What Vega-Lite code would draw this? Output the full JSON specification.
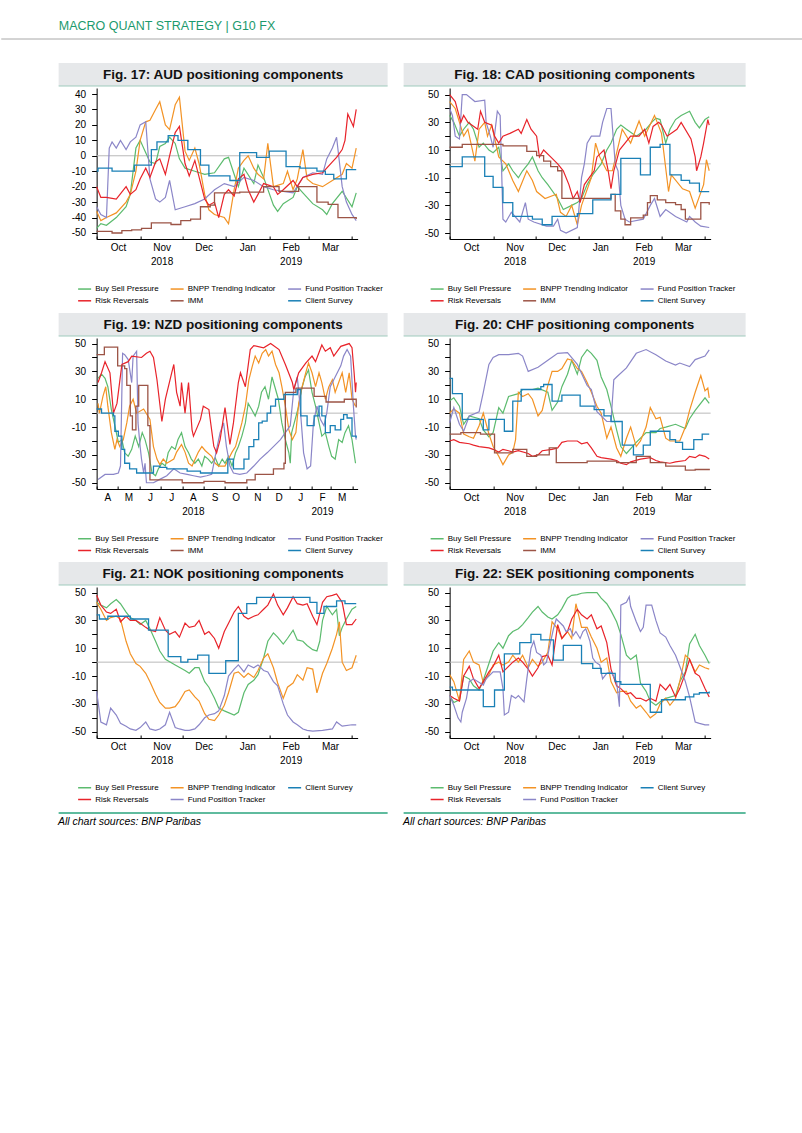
{
"$schema": "https://vega.github.io/schema/vega-lite/v6.json",
"background": "white",
"padding": {"left": 0, "top": 19, "right": 0, "bottom": 5},
"title": {"text": "MACRO QUANT STRATEGY | G10 FX", "anchor": "start", "frame": "bounds", "dx": 58, "font": "Liberation Sans Narrow, Liberation Sans", "fontSize": 12.5, "fontWeight": "normal", "color": "#1b9a6d", "offset": 6},
"config": {
  "font": "Liberation Sans",
  "view": {"stroke": null},
  "axis": {"grid": false, "domainColor": "#000000", "tickColor": "#000000", "labelColor": "#000000", "labelFontSize": 10, "labelFont": "Liberation Sans", "labelOverlap": false},
  "legend": {"labelFont": "Liberation Sans"}
},
"datasets": {
"aud": [
{"s":"Buy Sell Pressure","t":"2018-10-01","v":-47},{"s":"Buy Sell Pressure","t":"2018-10-04","v":-44},{"s":"Buy Sell Pressure","t":"2018-10-08","v":-45},{"s":"Buy Sell Pressure","t":"2018-10-15","v":-40},{"s":"Buy Sell Pressure","t":"2018-10-22","v":-33},{"s":"Buy Sell Pressure","t":"2018-10-25","v":-25},{"s":"Buy Sell Pressure","t":"2018-10-29","v":5},{"s":"Buy Sell Pressure","t":"2018-11-01","v":10},{"s":"Buy Sell Pressure","t":"2018-11-05","v":2},{"s":"Buy Sell Pressure","t":"2018-11-08","v":-4},{"s":"Buy Sell Pressure","t":"2018-11-12","v":-5},{"s":"Buy Sell Pressure","t":"2018-11-15","v":6},{"s":"Buy Sell Pressure","t":"2018-11-19","v":8},{"s":"Buy Sell Pressure","t":"2018-11-22","v":12},{"s":"Buy Sell Pressure","t":"2018-11-26","v":8},{"s":"Buy Sell Pressure","t":"2018-11-29","v":-2},{"s":"Buy Sell Pressure","t":"2018-12-03","v":-8},{"s":"Buy Sell Pressure","t":"2018-12-10","v":-10},{"s":"Buy Sell Pressure","t":"2018-12-17","v":-12},{"s":"Buy Sell Pressure","t":"2018-12-24","v":-11},{"s":"Buy Sell Pressure","t":"2018-12-31","v":-2},{"s":"Buy Sell Pressure","t":"2019-01-03","v":-1},{"s":"Buy Sell Pressure","t":"2019-01-07","v":-12},{"s":"Buy Sell Pressure","t":"2019-01-10","v":-20},{"s":"Buy Sell Pressure","t":"2019-01-14","v":-8},{"s":"Buy Sell Pressure","t":"2019-01-21","v":-18},{"s":"Buy Sell Pressure","t":"2019-01-24","v":-6},{"s":"Buy Sell Pressure","t":"2019-01-28","v":-14},{"s":"Buy Sell Pressure","t":"2019-02-04","v":-32},{"s":"Buy Sell Pressure","t":"2019-02-07","v":-36},{"s":"Buy Sell Pressure","t":"2019-02-11","v":-31},{"s":"Buy Sell Pressure","t":"2019-02-18","v":-27},{"s":"Buy Sell Pressure","t":"2019-02-21","v":-20},{"s":"Buy Sell Pressure","t":"2019-02-25","v":-24},{"s":"Buy Sell Pressure","t":"2019-03-04","v":-31},{"s":"Buy Sell Pressure","t":"2019-03-11","v":-35},{"s":"Buy Sell Pressure","t":"2019-03-14","v":-38},{"s":"Buy Sell Pressure","t":"2019-03-18","v":-31},{"s":"Buy Sell Pressure","t":"2019-03-25","v":-23},{"s":"Buy Sell Pressure","t":"2019-04-01","v":-33},{"s":"Buy Sell Pressure","t":"2019-04-04","v":-24},
{"s":"BNPP Trending Indicator","t":"2018-10-01","v":-36},{"s":"BNPP Trending Indicator","t":"2018-10-04","v":-42},{"s":"BNPP Trending Indicator","t":"2018-10-08","v":-40},{"s":"BNPP Trending Indicator","t":"2018-10-15","v":-37},{"s":"BNPP Trending Indicator","t":"2018-10-22","v":-30},{"s":"BNPP Trending Indicator","t":"2018-10-25","v":-25},{"s":"BNPP Trending Indicator","t":"2018-10-29","v":-10},{"s":"BNPP Trending Indicator","t":"2018-11-01","v":10},{"s":"BNPP Trending Indicator","t":"2018-11-05","v":22},{"s":"BNPP Trending Indicator","t":"2018-11-08","v":23},{"s":"BNPP Trending Indicator","t":"2018-11-12","v":30},{"s":"BNPP Trending Indicator","t":"2018-11-15","v":35},{"s":"BNPP Trending Indicator","t":"2018-11-19","v":20},{"s":"BNPP Trending Indicator","t":"2018-11-22","v":17},{"s":"BNPP Trending Indicator","t":"2018-11-26","v":33},{"s":"BNPP Trending Indicator","t":"2018-11-29","v":38},{"s":"BNPP Trending Indicator","t":"2018-12-03","v":3},{"s":"BNPP Trending Indicator","t":"2018-12-06","v":-3},{"s":"BNPP Trending Indicator","t":"2018-12-10","v":5},{"s":"BNPP Trending Indicator","t":"2018-12-13","v":-5},{"s":"BNPP Trending Indicator","t":"2018-12-17","v":-25},{"s":"BNPP Trending Indicator","t":"2018-12-20","v":-35},{"s":"BNPP Trending Indicator","t":"2018-12-24","v":-38},{"s":"BNPP Trending Indicator","t":"2018-12-31","v":-40},{"s":"BNPP Trending Indicator","t":"2019-01-03","v":-44},{"s":"BNPP Trending Indicator","t":"2019-01-07","v":-22},{"s":"BNPP Trending Indicator","t":"2019-01-10","v":-8},{"s":"BNPP Trending Indicator","t":"2019-01-14","v":-3},{"s":"BNPP Trending Indicator","t":"2019-01-17","v":0},{"s":"BNPP Trending Indicator","t":"2019-01-21","v":-8},{"s":"BNPP Trending Indicator","t":"2019-01-24","v":-12},{"s":"BNPP Trending Indicator","t":"2019-01-28","v":-15},{"s":"BNPP Trending Indicator","t":"2019-01-31","v":8},{"s":"BNPP Trending Indicator","t":"2019-02-04","v":-20},{"s":"BNPP Trending Indicator","t":"2019-02-11","v":-18},{"s":"BNPP Trending Indicator","t":"2019-02-14","v":-10},{"s":"BNPP Trending Indicator","t":"2019-02-18","v":-22},{"s":"BNPP Trending Indicator","t":"2019-02-21","v":-15},{"s":"BNPP Trending Indicator","t":"2019-02-25","v":4},{"s":"BNPP Trending Indicator","t":"2019-02-28","v":-15},{"s":"BNPP Trending Indicator","t":"2019-03-04","v":-18},{"s":"BNPP Trending Indicator","t":"2019-03-11","v":-20},{"s":"BNPP Trending Indicator","t":"2019-03-18","v":-16},{"s":"BNPP Trending Indicator","t":"2019-03-25","v":-12},{"s":"BNPP Trending Indicator","t":"2019-03-28","v":-5},{"s":"BNPP Trending Indicator","t":"2019-04-01","v":-8},{"s":"BNPP Trending Indicator","t":"2019-04-04","v":5},
{"s":"Fund Position Tracker","t":"2018-10-01","v":-33},{"s":"Fund Position Tracker","t":"2018-10-04","v":-38},{"s":"Fund Position Tracker","t":"2018-10-08","v":-40},{"s":"Fund Position Tracker","t":"2018-10-10","v":5},{"s":"Fund Position Tracker","t":"2018-10-12","v":9},{"s":"Fund Position Tracker","t":"2018-10-15","v":5},{"s":"Fund Position Tracker","t":"2018-10-18","v":10},{"s":"Fund Position Tracker","t":"2018-10-22","v":4},{"s":"Fund Position Tracker","t":"2018-10-25","v":9},{"s":"Fund Position Tracker","t":"2018-10-29","v":12},{"s":"Fund Position Tracker","t":"2018-11-01","v":20},{"s":"Fund Position Tracker","t":"2018-11-05","v":22},{"s":"Fund Position Tracker","t":"2018-11-08","v":-15},{"s":"Fund Position Tracker","t":"2018-11-12","v":-28},{"s":"Fund Position Tracker","t":"2018-11-15","v":-30},{"s":"Fund Position Tracker","t":"2018-11-19","v":-27},{"s":"Fund Position Tracker","t":"2018-11-22","v":-16},{"s":"Fund Position Tracker","t":"2018-11-26","v":-35},{"s":"Fund Position Tracker","t":"2018-12-03","v":-33},{"s":"Fund Position Tracker","t":"2018-12-10","v":-31},{"s":"Fund Position Tracker","t":"2018-12-17","v":-28},{"s":"Fund Position Tracker","t":"2018-12-24","v":-22},{"s":"Fund Position Tracker","t":"2018-12-31","v":-18},{"s":"Fund Position Tracker","t":"2019-01-07","v":-20},{"s":"Fund Position Tracker","t":"2019-01-14","v":-14},{"s":"Fund Position Tracker","t":"2019-01-21","v":-16},{"s":"Fund Position Tracker","t":"2019-01-28","v":-20},{"s":"Fund Position Tracker","t":"2019-02-04","v":-22},{"s":"Fund Position Tracker","t":"2019-02-11","v":-23},{"s":"Fund Position Tracker","t":"2019-02-18","v":-24},{"s":"Fund Position Tracker","t":"2019-02-25","v":-14},{"s":"Fund Position Tracker","t":"2019-03-04","v":-11},{"s":"Fund Position Tracker","t":"2019-03-11","v":-12},{"s":"Fund Position Tracker","t":"2019-03-14","v":-2},{"s":"Fund Position Tracker","t":"2019-03-18","v":5},{"s":"Fund Position Tracker","t":"2019-03-21","v":12},{"s":"Fund Position Tracker","t":"2019-03-25","v":-20},{"s":"Fund Position Tracker","t":"2019-03-28","v":-30},{"s":"Fund Position Tracker","t":"2019-04-01","v":-38},{"s":"Fund Position Tracker","t":"2019-04-04","v":-42},
{"s":"Risk Reversals","t":"2018-10-01","v":-20},{"s":"Risk Reversals","t":"2018-10-04","v":-27},{"s":"Risk Reversals","t":"2018-10-08","v":-27},{"s":"Risk Reversals","t":"2018-10-15","v":-28},{"s":"Risk Reversals","t":"2018-10-22","v":-20},{"s":"Risk Reversals","t":"2018-10-25","v":-25},{"s":"Risk Reversals","t":"2018-10-29","v":-22},{"s":"Risk Reversals","t":"2018-11-01","v":-15},{"s":"Risk Reversals","t":"2018-11-05","v":-8},{"s":"Risk Reversals","t":"2018-11-08","v":-14},{"s":"Risk Reversals","t":"2018-11-12","v":-4},{"s":"Risk Reversals","t":"2018-11-15","v":-2},{"s":"Risk Reversals","t":"2018-11-19","v":-12},{"s":"Risk Reversals","t":"2018-11-22","v":0},{"s":"Risk Reversals","t":"2018-11-26","v":15},{"s":"Risk Reversals","t":"2018-11-29","v":19},{"s":"Risk Reversals","t":"2018-12-03","v":-5},{"s":"Risk Reversals","t":"2018-12-06","v":-13},{"s":"Risk Reversals","t":"2018-12-10","v":-3},{"s":"Risk Reversals","t":"2018-12-17","v":-28},{"s":"Risk Reversals","t":"2018-12-20","v":-32},{"s":"Risk Reversals","t":"2018-12-24","v":-30},{"s":"Risk Reversals","t":"2018-12-27","v":-40},{"s":"Risk Reversals","t":"2018-12-31","v":-25},{"s":"Risk Reversals","t":"2019-01-03","v":-22},{"s":"Risk Reversals","t":"2019-01-07","v":-26},{"s":"Risk Reversals","t":"2019-01-10","v":-15},{"s":"Risk Reversals","t":"2019-01-14","v":-12},{"s":"Risk Reversals","t":"2019-01-17","v":-22},{"s":"Risk Reversals","t":"2019-01-21","v":-30},{"s":"Risk Reversals","t":"2019-01-24","v":-25},{"s":"Risk Reversals","t":"2019-01-28","v":-18},{"s":"Risk Reversals","t":"2019-02-04","v":-20},{"s":"Risk Reversals","t":"2019-02-07","v":-25},{"s":"Risk Reversals","t":"2019-02-11","v":-22},{"s":"Risk Reversals","t":"2019-02-18","v":-16},{"s":"Risk Reversals","t":"2019-02-21","v":-20},{"s":"Risk Reversals","t":"2019-02-25","v":-14},{"s":"Risk Reversals","t":"2019-03-04","v":-12},{"s":"Risk Reversals","t":"2019-03-11","v":-11},{"s":"Risk Reversals","t":"2019-03-18","v":-4},{"s":"Risk Reversals","t":"2019-03-21","v":-1},{"s":"Risk Reversals","t":"2019-03-25","v":4},{"s":"Risk Reversals","t":"2019-03-27","v":10},{"s":"Risk Reversals","t":"2019-03-29","v":27},{"s":"Risk Reversals","t":"2019-04-02","v":19},{"s":"Risk Reversals","t":"2019-04-04","v":30},
{"s":"IMM","t":"2018-10-01","v":-49},{"s":"IMM","t":"2018-10-12","v":-50},{"s":"IMM","t":"2018-10-19","v":-48.5},{"s":"IMM","t":"2018-10-26","v":-48},{"s":"IMM","t":"2018-11-02","v":-47},{"s":"IMM","t":"2018-11-09","v":-43.5},{"s":"IMM","t":"2018-11-23","v":-44.5},{"s":"IMM","t":"2018-11-30","v":-42},{"s":"IMM","t":"2018-12-07","v":-41},{"s":"IMM","t":"2018-12-14","v":-33},{"s":"IMM","t":"2018-12-21","v":-32},{"s":"IMM","t":"2018-12-24","v":-24},{"s":"IMM","t":"2019-01-11","v":-23.5},{"s":"IMM","t":"2019-01-28","v":-20},{"s":"IMM","t":"2019-02-08","v":-23},{"s":"IMM","t":"2019-02-22","v":-20},{"s":"IMM","t":"2019-03-07","v":-30},{"s":"IMM","t":"2019-03-15","v":-31.5},{"s":"IMM","t":"2019-03-22","v":-40},{"s":"IMM","t":"2019-04-04","v":-41},
{"s":"Client Survey","t":"2018-10-01","v":-10},{"s":"Client Survey","t":"2018-10-02","v":-8},{"s":"Client Survey","t":"2018-10-12","v":-10},{"s":"Client Survey","t":"2018-10-28","v":-6},{"s":"Client Survey","t":"2018-11-09","v":4},{"s":"Client Survey","t":"2018-11-13","v":9},{"s":"Client Survey","t":"2018-11-21","v":13},{"s":"Client Survey","t":"2018-11-28","v":10},{"s":"Client Survey","t":"2018-12-05","v":4},{"s":"Client Survey","t":"2018-12-14","v":-6},{"s":"Client Survey","t":"2018-12-20","v":-13},{"s":"Client Survey","t":"2019-01-04","v":-16},{"s":"Client Survey","t":"2019-01-11","v":2},{"s":"Client Survey","t":"2019-01-23","v":-1},{"s":"Client Survey","t":"2019-02-01","v":3},{"s":"Client Survey","t":"2019-02-13","v":-7},{"s":"Client Survey","t":"2019-02-23","v":-8},{"s":"Client Survey","t":"2019-03-07","v":-10},{"s":"Client Survey","t":"2019-03-13","v":-12},{"s":"Client Survey","t":"2019-03-19","v":-15},{"s":"Client Survey","t":"2019-03-28","v":-9},{"s":"Client Survey","t":"2019-04-04","v":-9}
],
"cad": [
{"s":"Buy Sell Pressure","t":"2018-10-01","v":35},{"s":"Buy Sell Pressure","t":"2018-10-04","v":30},{"s":"Buy Sell Pressure","t":"2018-10-08","v":20},{"s":"Buy Sell Pressure","t":"2018-10-11","v":25},{"s":"Buy Sell Pressure","t":"2018-10-15","v":30},{"s":"Buy Sell Pressure","t":"2018-10-18","v":25},{"s":"Buy Sell Pressure","t":"2018-10-22","v":12},{"s":"Buy Sell Pressure","t":"2018-10-25","v":15},{"s":"Buy Sell Pressure","t":"2018-10-29","v":10},{"s":"Buy Sell Pressure","t":"2018-11-01","v":8},{"s":"Buy Sell Pressure","t":"2018-11-05","v":12},{"s":"Buy Sell Pressure","t":"2018-11-08","v":-5},{"s":"Buy Sell Pressure","t":"2018-11-12","v":0},{"s":"Buy Sell Pressure","t":"2018-11-15","v":-5},{"s":"Buy Sell Pressure","t":"2018-11-19","v":-10},{"s":"Buy Sell Pressure","t":"2018-11-22","v":-5},{"s":"Buy Sell Pressure","t":"2018-11-26","v":0},{"s":"Buy Sell Pressure","t":"2018-11-29","v":5},{"s":"Buy Sell Pressure","t":"2018-12-03","v":-5},{"s":"Buy Sell Pressure","t":"2018-12-06","v":-10},{"s":"Buy Sell Pressure","t":"2018-12-10","v":-15},{"s":"Buy Sell Pressure","t":"2018-12-17","v":-25},{"s":"Buy Sell Pressure","t":"2018-12-21","v":-33},{"s":"Buy Sell Pressure","t":"2018-12-27","v":-30},{"s":"Buy Sell Pressure","t":"2018-12-31","v":-28},{"s":"Buy Sell Pressure","t":"2019-01-03","v":-25},{"s":"Buy Sell Pressure","t":"2019-01-07","v":-15},{"s":"Buy Sell Pressure","t":"2019-01-11","v":-8},{"s":"Buy Sell Pressure","t":"2019-01-17","v":0},{"s":"Buy Sell Pressure","t":"2019-01-21","v":10},{"s":"Buy Sell Pressure","t":"2019-01-24","v":15},{"s":"Buy Sell Pressure","t":"2019-01-28","v":25},{"s":"Buy Sell Pressure","t":"2019-01-31","v":28},{"s":"Buy Sell Pressure","t":"2019-02-04","v":25},{"s":"Buy Sell Pressure","t":"2019-02-11","v":20},{"s":"Buy Sell Pressure","t":"2019-02-18","v":25},{"s":"Buy Sell Pressure","t":"2019-02-22","v":30},{"s":"Buy Sell Pressure","t":"2019-02-25","v":33},{"s":"Buy Sell Pressure","t":"2019-02-28","v":32},{"s":"Buy Sell Pressure","t":"2019-03-04","v":15},{"s":"Buy Sell Pressure","t":"2019-03-07","v":25},{"s":"Buy Sell Pressure","t":"2019-03-11","v":32},{"s":"Buy Sell Pressure","t":"2019-03-15","v":35},{"s":"Buy Sell Pressure","t":"2019-03-21","v":38},{"s":"Buy Sell Pressure","t":"2019-03-25","v":30},{"s":"Buy Sell Pressure","t":"2019-03-28","v":26},{"s":"Buy Sell Pressure","t":"2019-04-01","v":32},{"s":"Buy Sell Pressure","t":"2019-04-04","v":34},
{"s":"BNPP Trending Indicator","t":"2018-10-01","v":45},{"s":"BNPP Trending Indicator","t":"2018-10-05","v":40},{"s":"BNPP Trending Indicator","t":"2018-10-11","v":20},{"s":"BNPP Trending Indicator","t":"2018-10-14","v":25},{"s":"BNPP Trending Indicator","t":"2018-10-19","v":2},{"s":"BNPP Trending Indicator","t":"2018-10-22","v":25},{"s":"BNPP Trending Indicator","t":"2018-10-26","v":30},{"s":"BNPP Trending Indicator","t":"2018-10-28","v":20},{"s":"BNPP Trending Indicator","t":"2018-10-31","v":28},{"s":"BNPP Trending Indicator","t":"2018-11-05","v":5},{"s":"BNPP Trending Indicator","t":"2018-11-10","v":0},{"s":"BNPP Trending Indicator","t":"2018-11-15","v":-12},{"s":"BNPP Trending Indicator","t":"2018-11-19","v":-20},{"s":"BNPP Trending Indicator","t":"2018-11-25","v":-5},{"s":"BNPP Trending Indicator","t":"2018-11-29","v":-12},{"s":"BNPP Trending Indicator","t":"2018-12-02","v":-20},{"s":"BNPP Trending Indicator","t":"2018-12-08","v":-25},{"s":"BNPP Trending Indicator","t":"2018-12-16","v":-22},{"s":"BNPP Trending Indicator","t":"2018-12-19","v":-35},{"s":"BNPP Trending Indicator","t":"2018-12-23","v":-38},{"s":"BNPP Trending Indicator","t":"2018-12-27","v":-30},{"s":"BNPP Trending Indicator","t":"2018-12-31","v":-44},{"s":"BNPP Trending Indicator","t":"2019-01-03","v":-30},{"s":"BNPP Trending Indicator","t":"2019-01-10","v":-10},{"s":"BNPP Trending Indicator","t":"2019-01-13","v":15},{"s":"BNPP Trending Indicator","t":"2019-01-16","v":5},{"s":"BNPP Trending Indicator","t":"2019-01-21","v":-5},{"s":"BNPP Trending Indicator","t":"2019-01-25","v":-5},{"s":"BNPP Trending Indicator","t":"2019-02-01","v":25},{"s":"BNPP Trending Indicator","t":"2019-02-07","v":15},{"s":"BNPP Trending Indicator","t":"2019-02-13","v":31},{"s":"BNPP Trending Indicator","t":"2019-02-17","v":20},{"s":"BNPP Trending Indicator","t":"2019-02-24","v":35},{"s":"BNPP Trending Indicator","t":"2019-03-01","v":22},{"s":"BNPP Trending Indicator","t":"2019-03-06","v":-20},{"s":"BNPP Trending Indicator","t":"2019-03-08","v":-8},{"s":"BNPP Trending Indicator","t":"2019-03-16","v":-18},{"s":"BNPP Trending Indicator","t":"2019-03-21","v":-20},{"s":"BNPP Trending Indicator","t":"2019-03-25","v":-32},{"s":"BNPP Trending Indicator","t":"2019-03-31","v":-15},{"s":"BNPP Trending Indicator","t":"2019-04-02","v":3},{"s":"BNPP Trending Indicator","t":"2019-04-04","v":-5},
{"s":"Fund Position Tracker","t":"2018-10-01","v":40},{"s":"Fund Position Tracker","t":"2018-10-03","v":35},{"s":"Fund Position Tracker","t":"2018-10-05","v":20},{"s":"Fund Position Tracker","t":"2018-10-08","v":18},{"s":"Fund Position Tracker","t":"2018-10-10","v":50},{"s":"Fund Position Tracker","t":"2018-10-13","v":50},{"s":"Fund Position Tracker","t":"2018-10-19","v":45},{"s":"Fund Position Tracker","t":"2018-10-26","v":46},{"s":"Fund Position Tracker","t":"2018-10-27","v":30},{"s":"Fund Position Tracker","t":"2018-10-30","v":20},{"s":"Fund Position Tracker","t":"2018-11-01","v":12},{"s":"Fund Position Tracker","t":"2018-11-04","v":38},{"s":"Fund Position Tracker","t":"2018-11-06","v":35},{"s":"Fund Position Tracker","t":"2018-11-08","v":-40},{"s":"Fund Position Tracker","t":"2018-11-10","v":-42},{"s":"Fund Position Tracker","t":"2018-11-14","v":-35},{"s":"Fund Position Tracker","t":"2018-11-20","v":-42},{"s":"Fund Position Tracker","t":"2018-11-24","v":-28},{"s":"Fund Position Tracker","t":"2018-11-26","v":-40},{"s":"Fund Position Tracker","t":"2018-11-30","v":-42},{"s":"Fund Position Tracker","t":"2018-12-09","v":-45},{"s":"Fund Position Tracker","t":"2018-12-14","v":-45},{"s":"Fund Position Tracker","t":"2018-12-17","v":-40},{"s":"Fund Position Tracker","t":"2018-12-19","v":-48},{"s":"Fund Position Tracker","t":"2018-12-23","v":-50},{"s":"Fund Position Tracker","t":"2018-12-31","v":-46},{"s":"Fund Position Tracker","t":"2019-01-03","v":-10},{"s":"Fund Position Tracker","t":"2019-01-05","v":0},{"s":"Fund Position Tracker","t":"2019-01-07","v":15},{"s":"Fund Position Tracker","t":"2019-01-10","v":20},{"s":"Fund Position Tracker","t":"2019-01-16","v":20},{"s":"Fund Position Tracker","t":"2019-01-18","v":30},{"s":"Fund Position Tracker","t":"2019-01-21","v":40},{"s":"Fund Position Tracker","t":"2019-01-24","v":40},{"s":"Fund Position Tracker","t":"2019-01-27","v":0},{"s":"Fund Position Tracker","t":"2019-01-29","v":-5},{"s":"Fund Position Tracker","t":"2019-01-31","v":-30},{"s":"Fund Position Tracker","t":"2019-02-03","v":-40},{"s":"Fund Position Tracker","t":"2019-02-06","v":-42},{"s":"Fund Position Tracker","t":"2019-02-16","v":-40},{"s":"Fund Position Tracker","t":"2019-02-21","v":-30},{"s":"Fund Position Tracker","t":"2019-02-24","v":-25},{"s":"Fund Position Tracker","t":"2019-02-28","v":-38},{"s":"Fund Position Tracker","t":"2019-03-04","v":-33},{"s":"Fund Position Tracker","t":"2019-03-11","v":-38},{"s":"Fund Position Tracker","t":"2019-03-19","v":-42},{"s":"Fund Position Tracker","t":"2019-03-21","v":-38},{"s":"Fund Position Tracker","t":"2019-03-25","v":-42},{"s":"Fund Position Tracker","t":"2019-03-29","v":-45},{"s":"Fund Position Tracker","t":"2019-04-04","v":-46},
{"s":"Risk Reversals","t":"2018-10-01","v":50},{"s":"Risk Reversals","t":"2018-10-05","v":45},{"s":"Risk Reversals","t":"2018-10-09","v":30},{"s":"Risk Reversals","t":"2018-10-11","v":35},{"s":"Risk Reversals","t":"2018-10-14","v":30},{"s":"Risk Reversals","t":"2018-10-21","v":25},{"s":"Risk Reversals","t":"2018-10-23","v":38},{"s":"Risk Reversals","t":"2018-10-26","v":30},{"s":"Risk Reversals","t":"2018-10-31","v":28},{"s":"Risk Reversals","t":"2018-11-02","v":20},{"s":"Risk Reversals","t":"2018-11-05","v":15},{"s":"Risk Reversals","t":"2018-11-08","v":20},{"s":"Risk Reversals","t":"2018-11-13","v":22},{"s":"Risk Reversals","t":"2018-11-19","v":25},{"s":"Risk Reversals","t":"2018-11-21","v":22},{"s":"Risk Reversals","t":"2018-11-25","v":32},{"s":"Risk Reversals","t":"2018-11-28","v":25},{"s":"Risk Reversals","t":"2018-12-02","v":20},{"s":"Risk Reversals","t":"2018-12-04","v":5},{"s":"Risk Reversals","t":"2018-12-07","v":10},{"s":"Risk Reversals","t":"2018-12-12","v":5},{"s":"Risk Reversals","t":"2018-12-17","v":0},{"s":"Risk Reversals","t":"2018-12-21","v":-5},{"s":"Risk Reversals","t":"2018-12-25","v":-15},{"s":"Risk Reversals","t":"2018-12-28","v":-25},{"s":"Risk Reversals","t":"2018-12-31","v":-20},{"s":"Risk Reversals","t":"2019-01-02","v":-28},{"s":"Risk Reversals","t":"2019-01-05","v":-15},{"s":"Risk Reversals","t":"2019-01-12","v":-5},{"s":"Risk Reversals","t":"2019-01-14","v":5},{"s":"Risk Reversals","t":"2019-01-19","v":10},{"s":"Risk Reversals","t":"2019-01-22","v":-5},{"s":"Risk Reversals","t":"2019-01-24","v":-18},{"s":"Risk Reversals","t":"2019-01-26","v":-5},{"s":"Risk Reversals","t":"2019-01-30","v":10},{"s":"Risk Reversals","t":"2019-02-03","v":15},{"s":"Risk Reversals","t":"2019-02-07","v":20},{"s":"Risk Reversals","t":"2019-02-13","v":20},{"s":"Risk Reversals","t":"2019-02-17","v":25},{"s":"Risk Reversals","t":"2019-02-20","v":15},{"s":"Risk Reversals","t":"2019-02-23","v":27},{"s":"Risk Reversals","t":"2019-02-27","v":30},{"s":"Risk Reversals","t":"2019-03-01","v":28},{"s":"Risk Reversals","t":"2019-03-05","v":20},{"s":"Risk Reversals","t":"2019-03-12","v":25},{"s":"Risk Reversals","t":"2019-03-15","v":30},{"s":"Risk Reversals","t":"2019-03-22","v":18},{"s":"Risk Reversals","t":"2019-03-25","v":5},{"s":"Risk Reversals","t":"2019-03-26","v":-5},{"s":"Risk Reversals","t":"2019-03-29","v":5},{"s":"Risk Reversals","t":"2019-03-31","v":15},{"s":"Risk Reversals","t":"2019-04-03","v":32},{"s":"Risk Reversals","t":"2019-04-04","v":28},
{"s":"IMM","t":"2018-10-01","v":12},{"s":"IMM","t":"2018-10-10","v":14},{"s":"IMM","t":"2018-11-08","v":13},{"s":"IMM","t":"2018-11-25","v":9},{"s":"IMM","t":"2018-12-02","v":6},{"s":"IMM","t":"2018-12-07","v":2},{"s":"IMM","t":"2018-12-12","v":-2},{"s":"IMM","t":"2018-12-17","v":-5},{"s":"IMM","t":"2018-12-20","v":-25},{"s":"IMM","t":"2019-01-24","v":-22},{"s":"IMM","t":"2019-01-27","v":-34},{"s":"IMM","t":"2019-01-31","v":-40},{"s":"IMM","t":"2019-02-03","v":-44},{"s":"IMM","t":"2019-02-07","v":-39},{"s":"IMM","t":"2019-02-16","v":-37},{"s":"IMM","t":"2019-02-19","v":-28},{"s":"IMM","t":"2019-02-21","v":-23},{"s":"IMM","t":"2019-02-26","v":-26},{"s":"IMM","t":"2019-03-04","v":-28},{"s":"IMM","t":"2019-03-11","v":-29.5},{"s":"IMM","t":"2019-03-15","v":-33},{"s":"IMM","t":"2019-03-18","v":-40},{"s":"IMM","t":"2019-03-29","v":-28},{"s":"IMM","t":"2019-04-04","v":-29.5},
{"s":"Client Survey","t":"2018-10-01","v":-2},{"s":"Client Survey","t":"2018-10-10","v":5},{"s":"Client Survey","t":"2018-10-26","v":-9},{"s":"Client Survey","t":"2018-11-01","v":-17},{"s":"Client Survey","t":"2018-11-08","v":-28},{"s":"Client Survey","t":"2018-11-15","v":-38},{"s":"Client Survey","t":"2018-11-29","v":-40},{"s":"Client Survey","t":"2018-12-06","v":-44},{"s":"Client Survey","t":"2018-12-13","v":-38},{"s":"Client Survey","t":"2018-12-31","v":-36},{"s":"Client Survey","t":"2019-01-11","v":-26},{"s":"Client Survey","t":"2019-01-24","v":-22},{"s":"Client Survey","t":"2019-01-31","v":4},{"s":"Client Survey","t":"2019-02-14","v":-8},{"s":"Client Survey","t":"2019-02-21","v":12},{"s":"Client Survey","t":"2019-02-28","v":14},{"s":"Client Survey","t":"2019-03-07","v":-8},{"s":"Client Survey","t":"2019-03-15","v":-12},{"s":"Client Survey","t":"2019-03-21","v":-14},{"s":"Client Survey","t":"2019-03-28","v":-20},{"s":"Client Survey","t":"2019-04-04","v":-20}
],
"nzd": [
{"s":"Buy Sell Pressure","t":"2018-04-03","v":25},{"s":"Buy Sell Pressure","t":"2018-04-08","v":28},{"s":"Buy Sell Pressure","t":"2018-04-13","v":25},{"s":"Buy Sell Pressure","t":"2018-04-17","v":19},{"s":"Buy Sell Pressure","t":"2018-04-22","v":2.6},{"s":"Buy Sell Pressure","t":"2018-04-27","v":-9},{"s":"Buy Sell Pressure","t":"2018-05-02","v":-21},{"s":"Buy Sell Pressure","t":"2018-05-07","v":-19},{"s":"Buy Sell Pressure","t":"2018-05-11","v":-28.5},{"s":"Buy Sell Pressure","t":"2018-05-16","v":-31},{"s":"Buy Sell Pressure","t":"2018-05-21","v":-26},{"s":"Buy Sell Pressure","t":"2018-05-26","v":-16.5},{"s":"Buy Sell Pressure","t":"2018-05-31","v":-24},{"s":"Buy Sell Pressure","t":"2018-06-05","v":-14},{"s":"Buy Sell Pressure","t":"2018-06-09","v":-19},{"s":"Buy Sell Pressure","t":"2018-06-14","v":-28.5},{"s":"Buy Sell Pressure","t":"2018-06-19","v":-43},{"s":"Buy Sell Pressure","t":"2018-06-24","v":-45},{"s":"Buy Sell Pressure","t":"2018-06-28","v":-40},{"s":"Buy Sell Pressure","t":"2018-07-03","v":-36},{"s":"Buy Sell Pressure","t":"2018-07-08","v":-38},{"s":"Buy Sell Pressure","t":"2018-07-12","v":-28.5},{"s":"Buy Sell Pressure","t":"2018-07-17","v":-24},{"s":"Buy Sell Pressure","t":"2018-07-22","v":-26},{"s":"Buy Sell Pressure","t":"2018-07-26","v":-19},{"s":"Buy Sell Pressure","t":"2018-07-31","v":-14},{"s":"Buy Sell Pressure","t":"2018-08-05","v":-24},{"s":"Buy Sell Pressure","t":"2018-08-10","v":-28.5},{"s":"Buy Sell Pressure","t":"2018-08-14","v":-33},{"s":"Buy Sell Pressure","t":"2018-08-19","v":-36},{"s":"Buy Sell Pressure","t":"2018-08-24","v":-33},{"s":"Buy Sell Pressure","t":"2018-08-29","v":-38},{"s":"Buy Sell Pressure","t":"2018-09-02","v":-31},{"s":"Buy Sell Pressure","t":"2018-09-07","v":-33},{"s":"Buy Sell Pressure","t":"2018-09-12","v":-36},{"s":"Buy Sell Pressure","t":"2018-09-17","v":-32},{"s":"Buy Sell Pressure","t":"2018-09-22","v":-38},{"s":"Buy Sell Pressure","t":"2018-09-27","v":-33},{"s":"Buy Sell Pressure","t":"2018-10-01","v":-36},{"s":"Buy Sell Pressure","t":"2018-10-06","v":-31},{"s":"Buy Sell Pressure","t":"2018-10-11","v":-38},{"s":"Buy Sell Pressure","t":"2018-10-16","v":-28.5},{"s":"Buy Sell Pressure","t":"2018-10-20","v":-24},{"s":"Buy Sell Pressure","t":"2018-10-25","v":-16.5},{"s":"Buy Sell Pressure","t":"2018-10-30","v":-7},{"s":"Buy Sell Pressure","t":"2018-11-03","v":7},{"s":"Buy Sell Pressure","t":"2018-11-08","v":2.6},{"s":"Buy Sell Pressure","t":"2018-11-13","v":-2},{"s":"Buy Sell Pressure","t":"2018-11-18","v":5},{"s":"Buy Sell Pressure","t":"2018-11-22","v":15},{"s":"Buy Sell Pressure","t":"2018-11-27","v":19},{"s":"Buy Sell Pressure","t":"2018-12-02","v":10},{"s":"Buy Sell Pressure","t":"2018-12-07","v":26},{"s":"Buy Sell Pressure","t":"2018-12-11","v":19},{"s":"Buy Sell Pressure","t":"2018-12-16","v":10},{"s":"Buy Sell Pressure","t":"2018-12-21","v":-7},{"s":"Buy Sell Pressure","t":"2018-12-26","v":-19},{"s":"Buy Sell Pressure","t":"2018-12-31","v":-28.5},{"s":"Buy Sell Pressure","t":"2019-01-02","v":-36},{"s":"Buy Sell Pressure","t":"2019-01-04","v":-14},{"s":"Buy Sell Pressure","t":"2019-01-09","v":-4.5},{"s":"Buy Sell Pressure","t":"2019-01-14","v":5},{"s":"Buy Sell Pressure","t":"2019-01-18","v":17},{"s":"Buy Sell Pressure","t":"2019-01-23","v":26},{"s":"Buy Sell Pressure","t":"2019-01-28","v":31},{"s":"Buy Sell Pressure","t":"2019-02-02","v":15},{"s":"Buy Sell Pressure","t":"2019-02-07","v":5},{"s":"Buy Sell Pressure","t":"2019-02-11","v":-4.5},{"s":"Buy Sell Pressure","t":"2019-02-16","v":-16.5},{"s":"Buy Sell Pressure","t":"2019-02-21","v":-14},{"s":"Buy Sell Pressure","t":"2019-02-26","v":-24},{"s":"Buy Sell Pressure","t":"2019-03-02","v":-31},{"s":"Buy Sell Pressure","t":"2019-03-07","v":-33},{"s":"Buy Sell Pressure","t":"2019-03-12","v":-19},{"s":"Buy Sell Pressure","t":"2019-03-17","v":-21},{"s":"Buy Sell Pressure","t":"2019-03-21","v":-14},{"s":"Buy Sell Pressure","t":"2019-03-26","v":-9},{"s":"Buy Sell Pressure","t":"2019-03-31","v":-19},{"s":"Buy Sell Pressure","t":"2019-04-05","v":-36},
{"s":"BNPP Trending Indicator","t":"2018-04-03","v":7},{"s":"BNPP Trending Indicator","t":"2018-04-05","v":0},{"s":"BNPP Trending Indicator","t":"2018-04-10","v":12},{"s":"BNPP Trending Indicator","t":"2018-04-14","v":19},{"s":"BNPP Trending Indicator","t":"2018-04-17","v":5},{"s":"BNPP Trending Indicator","t":"2018-04-22","v":-14},{"s":"BNPP Trending Indicator","t":"2018-04-27","v":-26},{"s":"BNPP Trending Indicator","t":"2018-04-30","v":-19},{"s":"BNPP Trending Indicator","t":"2018-05-04","v":-24},{"s":"BNPP Trending Indicator","t":"2018-05-09","v":-19},{"s":"BNPP Trending Indicator","t":"2018-05-14","v":-7},{"s":"BNPP Trending Indicator","t":"2018-05-18","v":5},{"s":"BNPP Trending Indicator","t":"2018-05-23","v":10},{"s":"BNPP Trending Indicator","t":"2018-05-28","v":0},{"s":"BNPP Trending Indicator","t":"2018-06-07","v":3},{"s":"BNPP Trending Indicator","t":"2018-06-16","v":-4.5},{"s":"BNPP Trending Indicator","t":"2018-06-21","v":-24},{"s":"BNPP Trending Indicator","t":"2018-06-26","v":-33},{"s":"BNPP Trending Indicator","t":"2018-06-30","v":-37},{"s":"BNPP Trending Indicator","t":"2018-07-05","v":-33},{"s":"BNPP Trending Indicator","t":"2018-07-10","v":-36},{"s":"BNPP Trending Indicator","t":"2018-07-20","v":-33},{"s":"BNPP Trending Indicator","t":"2018-07-24","v":-28},{"s":"BNPP Trending Indicator","t":"2018-07-31","v":-22.5},{"s":"BNPP Trending Indicator","t":"2018-08-05","v":-28},{"s":"BNPP Trending Indicator","t":"2018-08-10","v":-36},{"s":"BNPP Trending Indicator","t":"2018-08-15","v":-38},{"s":"BNPP Trending Indicator","t":"2018-08-24","v":-28},{"s":"BNPP Trending Indicator","t":"2018-08-29","v":-24},{"s":"BNPP Trending Indicator","t":"2018-09-03","v":-27},{"s":"BNPP Trending Indicator","t":"2018-09-12","v":-31},{"s":"BNPP Trending Indicator","t":"2018-09-17","v":-36},{"s":"BNPP Trending Indicator","t":"2018-09-22","v":-38},{"s":"BNPP Trending Indicator","t":"2018-10-01","v":-38},{"s":"BNPP Trending Indicator","t":"2018-10-06","v":-33},{"s":"BNPP Trending Indicator","t":"2018-10-11","v":-28},{"s":"BNPP Trending Indicator","t":"2018-10-16","v":-24},{"s":"BNPP Trending Indicator","t":"2018-10-20","v":-16.5},{"s":"BNPP Trending Indicator","t":"2018-10-25","v":-7},{"s":"BNPP Trending Indicator","t":"2018-10-30","v":5},{"s":"BNPP Trending Indicator","t":"2018-11-04","v":24},{"s":"BNPP Trending Indicator","t":"2018-11-09","v":34},{"s":"BNPP Trending Indicator","t":"2018-11-13","v":41},{"s":"BNPP Trending Indicator","t":"2018-11-18","v":36},{"s":"BNPP Trending Indicator","t":"2018-11-23","v":43},{"s":"BNPP Trending Indicator","t":"2018-11-28","v":45.7},{"s":"BNPP Trending Indicator","t":"2018-12-02","v":41},{"s":"BNPP Trending Indicator","t":"2018-12-07","v":44.5},{"s":"BNPP Trending Indicator","t":"2018-12-12","v":35},{"s":"BNPP Trending Indicator","t":"2018-12-17","v":29},{"s":"BNPP Trending Indicator","t":"2018-12-21","v":19},{"s":"BNPP Trending Indicator","t":"2018-12-26","v":5},{"s":"BNPP Trending Indicator","t":"2018-12-31","v":-12},{"s":"BNPP Trending Indicator","t":"2019-01-05","v":-19},{"s":"BNPP Trending Indicator","t":"2019-01-10","v":-14},{"s":"BNPP Trending Indicator","t":"2019-01-14","v":7},{"s":"BNPP Trending Indicator","t":"2019-01-19","v":19},{"s":"BNPP Trending Indicator","t":"2019-01-24","v":29},{"s":"BNPP Trending Indicator","t":"2019-01-28","v":36},{"s":"BNPP Trending Indicator","t":"2019-02-02","v":29},{"s":"BNPP Trending Indicator","t":"2019-02-07","v":19},{"s":"BNPP Trending Indicator","t":"2019-02-12","v":29},{"s":"BNPP Trending Indicator","t":"2019-02-16","v":22},{"s":"BNPP Trending Indicator","t":"2019-02-21","v":10},{"s":"BNPP Trending Indicator","t":"2019-02-26","v":19},{"s":"BNPP Trending Indicator","t":"2019-03-03","v":24},{"s":"BNPP Trending Indicator","t":"2019-03-07","v":15},{"s":"BNPP Trending Indicator","t":"2019-03-12","v":22},{"s":"BNPP Trending Indicator","t":"2019-03-17","v":29},{"s":"BNPP Trending Indicator","t":"2019-03-22","v":15},{"s":"BNPP Trending Indicator","t":"2019-03-27","v":29},{"s":"BNPP Trending Indicator","t":"2019-03-31","v":10},{"s":"BNPP Trending Indicator","t":"2019-04-05","v":5},
{"s":"Fund Position Tracker","t":"2018-04-03","v":-47.6},{"s":"Fund Position Tracker","t":"2018-04-13","v":-44},{"s":"Fund Position Tracker","t":"2018-04-25","v":-44},{"s":"Fund Position Tracker","t":"2018-05-02","v":-43},{"s":"Fund Position Tracker","t":"2018-05-05","v":-38},{"s":"Fund Position Tracker","t":"2018-05-08","v":43},{"s":"Fund Position Tracker","t":"2018-05-11","v":42},{"s":"Fund Position Tracker","t":"2018-05-16","v":38.5},{"s":"Fund Position Tracker","t":"2018-05-21","v":22},{"s":"Fund Position Tracker","t":"2018-05-23","v":41},{"s":"Fund Position Tracker","t":"2018-05-28","v":44.5},{"s":"Fund Position Tracker","t":"2018-05-30","v":-7},{"s":"Fund Position Tracker","t":"2018-06-02","v":-24},{"s":"Fund Position Tracker","t":"2018-06-04","v":-33},{"s":"Fund Position Tracker","t":"2018-06-07","v":-43},{"s":"Fund Position Tracker","t":"2018-06-09","v":-36},{"s":"Fund Position Tracker","t":"2018-06-11","v":-50},{"s":"Fund Position Tracker","t":"2018-06-21","v":-50},{"s":"Fund Position Tracker","t":"2018-06-30","v":-47.6},{"s":"Fund Position Tracker","t":"2018-07-10","v":-45},{"s":"Fund Position Tracker","t":"2018-07-20","v":-40},{"s":"Fund Position Tracker","t":"2018-07-29","v":-43},{"s":"Fund Position Tracker","t":"2018-08-08","v":-44},{"s":"Fund Position Tracker","t":"2018-08-17","v":-45},{"s":"Fund Position Tracker","t":"2018-08-27","v":-46},{"s":"Fund Position Tracker","t":"2018-09-05","v":-45},{"s":"Fund Position Tracker","t":"2018-09-12","v":-44},{"s":"Fund Position Tracker","t":"2018-09-19","v":-26},{"s":"Fund Position Tracker","t":"2018-09-24","v":-14},{"s":"Fund Position Tracker","t":"2018-09-29","v":-7},{"s":"Fund Position Tracker","t":"2018-10-03","v":-24},{"s":"Fund Position Tracker","t":"2018-10-08","v":-38},{"s":"Fund Position Tracker","t":"2018-10-13","v":-43},{"s":"Fund Position Tracker","t":"2018-10-22","v":-44},{"s":"Fund Position Tracker","t":"2018-11-01","v":-43},{"s":"Fund Position Tracker","t":"2018-11-11","v":-38},{"s":"Fund Position Tracker","t":"2018-11-20","v":-33},{"s":"Fund Position Tracker","t":"2018-11-30","v":-28.5},{"s":"Fund Position Tracker","t":"2018-12-09","v":-24},{"s":"Fund Position Tracker","t":"2018-12-19","v":-19},{"s":"Fund Position Tracker","t":"2018-12-26","v":-14},{"s":"Fund Position Tracker","t":"2019-01-02","v":-9},{"s":"Fund Position Tracker","t":"2019-01-07","v":17},{"s":"Fund Position Tracker","t":"2019-01-12","v":26},{"s":"Fund Position Tracker","t":"2019-01-16","v":5},{"s":"Fund Position Tracker","t":"2019-01-21","v":-28.5},{"s":"Fund Position Tracker","t":"2019-01-26","v":-40},{"s":"Fund Position Tracker","t":"2019-01-31","v":-38},{"s":"Fund Position Tracker","t":"2019-02-04","v":-7},{"s":"Fund Position Tracker","t":"2019-02-09","v":5},{"s":"Fund Position Tracker","t":"2019-02-14","v":-4.5},{"s":"Fund Position Tracker","t":"2019-02-19","v":-9},{"s":"Fund Position Tracker","t":"2019-02-23","v":0},{"s":"Fund Position Tracker","t":"2019-02-28","v":19},{"s":"Fund Position Tracker","t":"2019-03-05","v":24},{"s":"Fund Position Tracker","t":"2019-03-10","v":29},{"s":"Fund Position Tracker","t":"2019-03-15","v":34},{"s":"Fund Position Tracker","t":"2019-03-19","v":41},{"s":"Fund Position Tracker","t":"2019-03-24","v":45.7},{"s":"Fund Position Tracker","t":"2019-03-29","v":41},{"s":"Fund Position Tracker","t":"2019-04-02","v":5},{"s":"Fund Position Tracker","t":"2019-04-05","v":-16.5},{"s":"Fund Position Tracker","t":"2019-04-06","v":-19},
{"s":"Risk Reversals","t":"2018-04-03","v":22},{"s":"Risk Reversals","t":"2018-04-08","v":29},{"s":"Risk Reversals","t":"2018-04-13","v":37},{"s":"Risk Reversals","t":"2018-04-20","v":29},{"s":"Risk Reversals","t":"2018-04-25","v":0},{"s":"Risk Reversals","t":"2018-04-30","v":7},{"s":"Risk Reversals","t":"2018-05-07","v":35},{"s":"Risk Reversals","t":"2018-05-16","v":37},{"s":"Risk Reversals","t":"2018-05-21","v":41},{"s":"Risk Reversals","t":"2018-06-04","v":40},{"s":"Risk Reversals","t":"2018-06-11","v":43},{"s":"Risk Reversals","t":"2018-06-16","v":44.5},{"s":"Risk Reversals","t":"2018-06-21","v":40},{"s":"Risk Reversals","t":"2018-06-26","v":24},{"s":"Risk Reversals","t":"2018-07-03","v":-6},{"s":"Risk Reversals","t":"2018-07-08","v":10},{"s":"Risk Reversals","t":"2018-07-17","v":29},{"s":"Risk Reversals","t":"2018-07-20","v":35},{"s":"Risk Reversals","t":"2018-07-24","v":15},{"s":"Risk Reversals","t":"2018-07-29","v":5},{"s":"Risk Reversals","t":"2018-07-31","v":22},{"s":"Risk Reversals","t":"2018-08-05","v":0},{"s":"Risk Reversals","t":"2018-08-10","v":22},{"s":"Risk Reversals","t":"2018-08-15","v":-12},{"s":"Risk Reversals","t":"2018-08-17","v":-16.5},{"s":"Risk Reversals","t":"2018-08-27","v":-4.5},{"s":"Risk Reversals","t":"2018-08-31","v":5},{"s":"Risk Reversals","t":"2018-09-08","v":2.6},{"s":"Risk Reversals","t":"2018-09-15","v":-23.7},{"s":"Risk Reversals","t":"2018-09-19","v":-28.5},{"s":"Risk Reversals","t":"2018-09-24","v":-19},{"s":"Risk Reversals","t":"2018-10-01","v":4},{"s":"Risk Reversals","t":"2018-10-08","v":-22.5},{"s":"Risk Reversals","t":"2018-10-13","v":-7},{"s":"Risk Reversals","t":"2018-10-20","v":22},{"s":"Risk Reversals","t":"2018-10-23","v":29},{"s":"Risk Reversals","t":"2018-10-30","v":19},{"s":"Risk Reversals","t":"2018-11-06","v":45.7},{"s":"Risk Reversals","t":"2018-11-11","v":48.5},{"s":"Risk Reversals","t":"2018-11-25","v":47},{"s":"Risk Reversals","t":"2018-12-05","v":50},{"s":"Risk Reversals","t":"2018-12-17","v":45.7},{"s":"Risk Reversals","t":"2018-12-26","v":35},{"s":"Risk Reversals","t":"2019-01-05","v":22},{"s":"Risk Reversals","t":"2019-01-07","v":17},{"s":"Risk Reversals","t":"2019-01-14","v":29},{"s":"Risk Reversals","t":"2019-01-24","v":36},{"s":"Risk Reversals","t":"2019-02-02","v":41},{"s":"Risk Reversals","t":"2019-02-07","v":37},{"s":"Risk Reversals","t":"2019-02-16","v":49},{"s":"Risk Reversals","t":"2019-02-21","v":44.5},{"s":"Risk Reversals","t":"2019-02-28","v":47},{"s":"Risk Reversals","t":"2019-03-05","v":41},{"s":"Risk Reversals","t":"2019-03-15","v":48},{"s":"Risk Reversals","t":"2019-03-27","v":50},{"s":"Risk Reversals","t":"2019-03-31","v":47},{"s":"Risk Reversals","t":"2019-04-03","v":29},{"s":"Risk Reversals","t":"2019-04-05","v":15},{"s":"Risk Reversals","t":"2019-04-06","v":22},
{"s":"IMM","t":"2018-04-01","v":42},{"s":"IMM","t":"2018-04-12","v":47.5},{"s":"IMM","t":"2018-05-01","v":34},{"s":"IMM","t":"2018-05-11","v":32},{"s":"IMM","t":"2018-05-14","v":20},{"s":"IMM","t":"2018-05-19","v":-2},{"s":"IMM","t":"2018-05-22","v":-12},{"s":"IMM","t":"2018-05-27","v":5},{"s":"IMM","t":"2018-05-31","v":20},{"s":"IMM","t":"2018-06-13","v":-9},{"s":"IMM","t":"2018-06-16","v":-48},{"s":"IMM","t":"2018-08-01","v":-50},{"s":"IMM","t":"2018-09-01","v":-49},{"s":"IMM","t":"2018-10-01","v":-50},{"s":"IMM","t":"2018-11-01","v":-48},{"s":"IMM","t":"2018-11-13","v":-44},{"s":"IMM","t":"2018-12-09","v":-40},{"s":"IMM","t":"2018-12-24","v":-36},{"s":"IMM","t":"2018-12-26","v":15},{"s":"IMM","t":"2019-01-10","v":18},{"s":"IMM","t":"2019-02-05","v":12},{"s":"IMM","t":"2019-02-22","v":8},{"s":"IMM","t":"2019-03-20","v":10},{"s":"IMM","t":"2019-04-06","v":4},
{"s":"Client Survey","t":"2018-04-01","v":3},{"s":"Client Survey","t":"2018-04-08","v":0},{"s":"Client Survey","t":"2018-04-25","v":-2},{"s":"Client Survey","t":"2018-04-27","v":-13},{"s":"Client Survey","t":"2018-05-02","v":-16.5},{"s":"Client Survey","t":"2018-05-07","v":-26},{"s":"Client Survey","t":"2018-05-11","v":-36},{"s":"Client Survey","t":"2018-05-18","v":-40},{"s":"Client Survey","t":"2018-05-28","v":-43},{"s":"Client Survey","t":"2018-06-21","v":-38},{"s":"Client Survey","t":"2018-06-30","v":-39},{"s":"Client Survey","t":"2018-07-10","v":-40},{"s":"Client Survey","t":"2018-08-08","v":-41.6},{"s":"Client Survey","t":"2018-08-27","v":-43},{"s":"Client Survey","t":"2018-10-05","v":-33},{"s":"Client Survey","t":"2018-10-13","v":-40},{"s":"Client Survey","t":"2018-10-28","v":-33},{"s":"Client Survey","t":"2018-11-04","v":-24},{"s":"Client Survey","t":"2018-11-11","v":-19},{"s":"Client Survey","t":"2018-11-18","v":-7},{"s":"Client Survey","t":"2018-11-23","v":-5.7},{"s":"Client Survey","t":"2018-11-30","v":0},{"s":"Client Survey","t":"2018-12-05","v":5},{"s":"Client Survey","t":"2018-12-12","v":10},{"s":"Client Survey","t":"2018-12-24","v":13.4},{"s":"Client Survey","t":"2019-01-12","v":17},{"s":"Client Survey","t":"2019-01-17","v":-2},{"s":"Client Survey","t":"2019-01-26","v":-9},{"s":"Client Survey","t":"2019-02-05","v":-2},{"s":"Client Survey","t":"2019-02-12","v":5},{"s":"Client Survey","t":"2019-02-16","v":-2},{"s":"Client Survey","t":"2019-02-21","v":-14},{"s":"Client Survey","t":"2019-02-28","v":-9},{"s":"Client Survey","t":"2019-03-07","v":-12},{"s":"Client Survey","t":"2019-03-15","v":-4.5},{"s":"Client Survey","t":"2019-03-19","v":-1},{"s":"Client Survey","t":"2019-03-24","v":-3.5},{"s":"Client Survey","t":"2019-03-31","v":-16.5},{"s":"Client Survey","t":"2019-04-06","v":-17.7}
],
"chf": [
{"s":"Buy Sell Pressure","t":"2018-10-01","v":9},{"s":"Buy Sell Pressure","t":"2018-10-04","v":11},{"s":"Buy Sell Pressure","t":"2018-10-08","v":5},{"s":"Buy Sell Pressure","t":"2018-10-11","v":-8},{"s":"Buy Sell Pressure","t":"2018-10-15","v":-2},{"s":"Buy Sell Pressure","t":"2018-10-22","v":-4},{"s":"Buy Sell Pressure","t":"2018-10-25","v":-12},{"s":"Buy Sell Pressure","t":"2018-10-29","v":-17},{"s":"Buy Sell Pressure","t":"2018-11-01","v":-14},{"s":"Buy Sell Pressure","t":"2018-11-05","v":4},{"s":"Buy Sell Pressure","t":"2018-11-08","v":0},{"s":"Buy Sell Pressure","t":"2018-11-12","v":12},{"s":"Buy Sell Pressure","t":"2018-11-19","v":14},{"s":"Buy Sell Pressure","t":"2018-11-22","v":17},{"s":"Buy Sell Pressure","t":"2018-11-29","v":17},{"s":"Buy Sell Pressure","t":"2018-12-03","v":18},{"s":"Buy Sell Pressure","t":"2018-12-10","v":15},{"s":"Buy Sell Pressure","t":"2018-12-13","v":2},{"s":"Buy Sell Pressure","t":"2018-12-17","v":8},{"s":"Buy Sell Pressure","t":"2018-12-20","v":19},{"s":"Buy Sell Pressure","t":"2018-12-24","v":28},{"s":"Buy Sell Pressure","t":"2018-12-27","v":38},{"s":"Buy Sell Pressure","t":"2018-12-31","v":28},{"s":"Buy Sell Pressure","t":"2019-01-03","v":40},{"s":"Buy Sell Pressure","t":"2019-01-07","v":45.7},{"s":"Buy Sell Pressure","t":"2019-01-10","v":43},{"s":"Buy Sell Pressure","t":"2019-01-14","v":38},{"s":"Buy Sell Pressure","t":"2019-01-17","v":26},{"s":"Buy Sell Pressure","t":"2019-01-21","v":17},{"s":"Buy Sell Pressure","t":"2019-01-24","v":5},{"s":"Buy Sell Pressure","t":"2019-01-28","v":-12},{"s":"Buy Sell Pressure","t":"2019-01-31","v":-24},{"s":"Buy Sell Pressure","t":"2019-02-04","v":-29},{"s":"Buy Sell Pressure","t":"2019-02-11","v":-21},{"s":"Buy Sell Pressure","t":"2019-02-18","v":-14},{"s":"Buy Sell Pressure","t":"2019-02-25","v":-14},{"s":"Buy Sell Pressure","t":"2019-02-28","v":-11},{"s":"Buy Sell Pressure","t":"2019-03-04","v":-10},{"s":"Buy Sell Pressure","t":"2019-03-11","v":-8},{"s":"Buy Sell Pressure","t":"2019-03-18","v":-11},{"s":"Buy Sell Pressure","t":"2019-03-21","v":-4},{"s":"Buy Sell Pressure","t":"2019-03-25","v":2},{"s":"Buy Sell Pressure","t":"2019-04-01","v":11},{"s":"Buy Sell Pressure","t":"2019-04-04","v":7},
{"s":"BNPP Trending Indicator","t":"2018-10-01","v":0},{"s":"BNPP Trending Indicator","t":"2018-10-04","v":3},{"s":"BNPP Trending Indicator","t":"2018-10-08","v":0},{"s":"BNPP Trending Indicator","t":"2018-10-11","v":-15},{"s":"BNPP Trending Indicator","t":"2018-10-15","v":-17},{"s":"BNPP Trending Indicator","t":"2018-10-18","v":-18},{"s":"BNPP Trending Indicator","t":"2018-10-22","v":-9},{"s":"BNPP Trending Indicator","t":"2018-10-25","v":0},{"s":"BNPP Trending Indicator","t":"2018-10-29","v":-15},{"s":"BNPP Trending Indicator","t":"2018-11-01","v":-24},{"s":"BNPP Trending Indicator","t":"2018-11-05","v":-31},{"s":"BNPP Trending Indicator","t":"2018-11-08","v":-37},{"s":"BNPP Trending Indicator","t":"2018-11-12","v":-30},{"s":"BNPP Trending Indicator","t":"2018-11-15","v":-28},{"s":"BNPP Trending Indicator","t":"2018-11-17","v":-19},{"s":"BNPP Trending Indicator","t":"2018-11-19","v":15},{"s":"BNPP Trending Indicator","t":"2018-11-22","v":12},{"s":"BNPP Trending Indicator","t":"2018-11-26","v":14},{"s":"BNPP Trending Indicator","t":"2018-11-29","v":10},{"s":"BNPP Trending Indicator","t":"2018-12-03","v":-2},{"s":"BNPP Trending Indicator","t":"2018-12-06","v":2},{"s":"BNPP Trending Indicator","t":"2018-12-10","v":20},{"s":"BNPP Trending Indicator","t":"2018-12-13","v":30},{"s":"BNPP Trending Indicator","t":"2018-12-17","v":30},{"s":"BNPP Trending Indicator","t":"2018-12-20","v":32},{"s":"BNPP Trending Indicator","t":"2018-12-24","v":39},{"s":"BNPP Trending Indicator","t":"2018-12-27","v":38},{"s":"BNPP Trending Indicator","t":"2018-12-31","v":32},{"s":"BNPP Trending Indicator","t":"2019-01-03","v":30},{"s":"BNPP Trending Indicator","t":"2019-01-07","v":22},{"s":"BNPP Trending Indicator","t":"2019-01-10","v":15},{"s":"BNPP Trending Indicator","t":"2019-01-14","v":5},{"s":"BNPP Trending Indicator","t":"2019-01-17","v":0},{"s":"BNPP Trending Indicator","t":"2019-01-21","v":-18},{"s":"BNPP Trending Indicator","t":"2019-01-24","v":-10},{"s":"BNPP Trending Indicator","t":"2019-01-28","v":-25},{"s":"BNPP Trending Indicator","t":"2019-01-31","v":-31},{"s":"BNPP Trending Indicator","t":"2019-02-04","v":-18},{"s":"BNPP Trending Indicator","t":"2019-02-07","v":-10},{"s":"BNPP Trending Indicator","t":"2019-02-11","v":-24},{"s":"BNPP Trending Indicator","t":"2019-02-14","v":-20},{"s":"BNPP Trending Indicator","t":"2019-02-18","v":-10},{"s":"BNPP Trending Indicator","t":"2019-02-21","v":4},{"s":"BNPP Trending Indicator","t":"2019-02-25","v":-4},{"s":"BNPP Trending Indicator","t":"2019-02-28","v":-3},{"s":"BNPP Trending Indicator","t":"2019-03-04","v":-18},{"s":"BNPP Trending Indicator","t":"2019-03-07","v":-20},{"s":"BNPP Trending Indicator","t":"2019-03-11","v":-20},{"s":"BNPP Trending Indicator","t":"2019-03-14","v":-20},{"s":"BNPP Trending Indicator","t":"2019-03-18","v":-10},{"s":"BNPP Trending Indicator","t":"2019-03-21","v":2},{"s":"BNPP Trending Indicator","t":"2019-03-25","v":15},{"s":"BNPP Trending Indicator","t":"2019-03-29","v":27},{"s":"BNPP Trending Indicator","t":"2019-04-01","v":16},{"s":"BNPP Trending Indicator","t":"2019-04-03","v":18},{"s":"BNPP Trending Indicator","t":"2019-04-04","v":11},
{"s":"Fund Position Tracker","t":"2018-10-01","v":-7},{"s":"Fund Position Tracker","t":"2018-10-04","v":4},{"s":"Fund Position Tracker","t":"2018-10-08","v":-8},{"s":"Fund Position Tracker","t":"2018-10-11","v":-13},{"s":"Fund Position Tracker","t":"2018-10-15","v":-2},{"s":"Fund Position Tracker","t":"2018-10-22","v":1},{"s":"Fund Position Tracker","t":"2018-10-25","v":15},{"s":"Fund Position Tracker","t":"2018-10-29","v":35},{"s":"Fund Position Tracker","t":"2018-11-01","v":40},{"s":"Fund Position Tracker","t":"2018-11-05","v":42},{"s":"Fund Position Tracker","t":"2018-11-12","v":42},{"s":"Fund Position Tracker","t":"2018-11-19","v":43},{"s":"Fund Position Tracker","t":"2018-11-22","v":41},{"s":"Fund Position Tracker","t":"2018-11-26","v":30},{"s":"Fund Position Tracker","t":"2018-12-03","v":33},{"s":"Fund Position Tracker","t":"2018-12-10","v":38},{"s":"Fund Position Tracker","t":"2018-12-17","v":43},{"s":"Fund Position Tracker","t":"2018-12-24","v":43.5},{"s":"Fund Position Tracker","t":"2018-12-31","v":35},{"s":"Fund Position Tracker","t":"2019-01-07","v":20},{"s":"Fund Position Tracker","t":"2019-01-10","v":17},{"s":"Fund Position Tracker","t":"2019-01-14","v":1},{"s":"Fund Position Tracker","t":"2019-01-21","v":-6},{"s":"Fund Position Tracker","t":"2019-01-24","v":-6},{"s":"Fund Position Tracker","t":"2019-01-26","v":24},{"s":"Fund Position Tracker","t":"2019-01-28","v":26},{"s":"Fund Position Tracker","t":"2019-02-04","v":32.5},{"s":"Fund Position Tracker","t":"2019-02-11","v":43},{"s":"Fund Position Tracker","t":"2019-02-18","v":45.7},{"s":"Fund Position Tracker","t":"2019-02-25","v":42},{"s":"Fund Position Tracker","t":"2019-03-04","v":37.5},{"s":"Fund Position Tracker","t":"2019-03-11","v":34.5},{"s":"Fund Position Tracker","t":"2019-03-14","v":36},{"s":"Fund Position Tracker","t":"2019-03-21","v":33.5},{"s":"Fund Position Tracker","t":"2019-03-25","v":38.5},{"s":"Fund Position Tracker","t":"2019-04-01","v":41},{"s":"Fund Position Tracker","t":"2019-04-04","v":45.5},
{"s":"Risk Reversals","t":"2018-10-01","v":-20},{"s":"Risk Reversals","t":"2018-10-04","v":-19},{"s":"Risk Reversals","t":"2018-10-08","v":-21},{"s":"Risk Reversals","t":"2018-10-15","v":-22},{"s":"Risk Reversals","t":"2018-10-18","v":-23},{"s":"Risk Reversals","t":"2018-10-22","v":-24},{"s":"Risk Reversals","t":"2018-10-29","v":-25},{"s":"Risk Reversals","t":"2018-11-01","v":-26},{"s":"Risk Reversals","t":"2018-11-05","v":-28},{"s":"Risk Reversals","t":"2018-11-08","v":-26},{"s":"Risk Reversals","t":"2018-11-12","v":-27},{"s":"Risk Reversals","t":"2018-11-15","v":-28},{"s":"Risk Reversals","t":"2018-11-19","v":-27},{"s":"Risk Reversals","t":"2018-11-26","v":-29},{"s":"Risk Reversals","t":"2018-11-29","v":-31},{"s":"Risk Reversals","t":"2018-12-03","v":-30},{"s":"Risk Reversals","t":"2018-12-06","v":-27},{"s":"Risk Reversals","t":"2018-12-13","v":-26},{"s":"Risk Reversals","t":"2018-12-17","v":-25},{"s":"Risk Reversals","t":"2018-12-20","v":-21},{"s":"Risk Reversals","t":"2018-12-24","v":-20},{"s":"Risk Reversals","t":"2018-12-31","v":-20},{"s":"Risk Reversals","t":"2019-01-03","v":-22},{"s":"Risk Reversals","t":"2019-01-07","v":-21},{"s":"Risk Reversals","t":"2019-01-10","v":-25},{"s":"Risk Reversals","t":"2019-01-14","v":-31},{"s":"Risk Reversals","t":"2019-01-17","v":-32},{"s":"Risk Reversals","t":"2019-01-24","v":-33},{"s":"Risk Reversals","t":"2019-01-28","v":-34},{"s":"Risk Reversals","t":"2019-01-31","v":-36},{"s":"Risk Reversals","t":"2019-02-04","v":-37},{"s":"Risk Reversals","t":"2019-02-07","v":-35},{"s":"Risk Reversals","t":"2019-02-14","v":-33},{"s":"Risk Reversals","t":"2019-02-21","v":-32},{"s":"Risk Reversals","t":"2019-02-25","v":-34},{"s":"Risk Reversals","t":"2019-02-28","v":-35},{"s":"Risk Reversals","t":"2019-03-07","v":-36},{"s":"Risk Reversals","t":"2019-03-11","v":-35},{"s":"Risk Reversals","t":"2019-03-18","v":-34},{"s":"Risk Reversals","t":"2019-03-21","v":-31},{"s":"Risk Reversals","t":"2019-03-25","v":-32},{"s":"Risk Reversals","t":"2019-03-28","v":-30},{"s":"Risk Reversals","t":"2019-04-01","v":-31},{"s":"Risk Reversals","t":"2019-04-04","v":-33},
{"s":"IMM","t":"2018-10-01","v":-15},{"s":"IMM","t":"2018-10-09","v":-14},{"s":"IMM","t":"2018-10-23","v":-15},{"s":"IMM","t":"2018-11-02","v":-28.5},{"s":"IMM","t":"2018-11-15","v":-26},{"s":"IMM","t":"2018-11-25","v":-31},{"s":"IMM","t":"2018-12-02","v":-30},{"s":"IMM","t":"2018-12-11","v":-25},{"s":"IMM","t":"2018-12-16","v":-35.6},{"s":"IMM","t":"2019-01-07","v":-34.5},{"s":"IMM","t":"2019-01-28","v":-35.6},{"s":"IMM","t":"2019-02-11","v":-31},{"s":"IMM","t":"2019-02-21","v":-35.6},{"s":"IMM","t":"2019-03-04","v":-38},{"s":"IMM","t":"2019-03-18","v":-41},{"s":"IMM","t":"2019-03-25","v":-40.5},{"s":"IMM","t":"2019-04-04","v":-40},
{"s":"Client Survey","t":"2018-10-01","v":25},{"s":"Client Survey","t":"2018-10-03","v":14},{"s":"Client Survey","t":"2018-10-10","v":-4.5},{"s":"Client Survey","t":"2018-10-25","v":-12},{"s":"Client Survey","t":"2018-10-29","v":-4.5},{"s":"Client Survey","t":"2018-11-09","v":-13},{"s":"Client Survey","t":"2018-11-15","v":8.6},{"s":"Client Survey","t":"2018-11-21","v":17},{"s":"Client Survey","t":"2018-12-05","v":19},{"s":"Client Survey","t":"2018-12-07","v":20.6},{"s":"Client Survey","t":"2018-12-13","v":8.6},{"s":"Client Survey","t":"2018-12-20","v":13},{"s":"Client Survey","t":"2019-01-02","v":5},{"s":"Client Survey","t":"2019-01-12","v":2.6},{"s":"Client Survey","t":"2019-01-19","v":-2},{"s":"Client Survey","t":"2019-01-24","v":-6},{"s":"Client Survey","t":"2019-02-01","v":-23},{"s":"Client Survey","t":"2019-02-09","v":-30},{"s":"Client Survey","t":"2019-02-16","v":-23},{"s":"Client Survey","t":"2019-02-21","v":-13},{"s":"Client Survey","t":"2019-03-07","v":-19},{"s":"Client Survey","t":"2019-03-11","v":-21},{"s":"Client Survey","t":"2019-03-16","v":-26},{"s":"Client Survey","t":"2019-03-24","v":-19},{"s":"Client Survey","t":"2019-03-30","v":-15},{"s":"Client Survey","t":"2019-04-04","v":-15}
],
"nok": [
{"s":"Buy Sell Pressure","t":"2018-10-01","v":43},{"s":"Buy Sell Pressure","t":"2018-10-04","v":41},{"s":"Buy Sell Pressure","t":"2018-10-08","v":39},{"s":"Buy Sell Pressure","t":"2018-10-11","v":42},{"s":"Buy Sell Pressure","t":"2018-10-15","v":45},{"s":"Buy Sell Pressure","t":"2018-10-18","v":42},{"s":"Buy Sell Pressure","t":"2018-10-22","v":36},{"s":"Buy Sell Pressure","t":"2018-10-25","v":32},{"s":"Buy Sell Pressure","t":"2018-10-29","v":30},{"s":"Buy Sell Pressure","t":"2018-11-01","v":27},{"s":"Buy Sell Pressure","t":"2018-11-05","v":30},{"s":"Buy Sell Pressure","t":"2018-11-08","v":24},{"s":"Buy Sell Pressure","t":"2018-11-12","v":15},{"s":"Buy Sell Pressure","t":"2018-11-15","v":8},{"s":"Buy Sell Pressure","t":"2018-11-19","v":2},{"s":"Buy Sell Pressure","t":"2018-11-26","v":-2},{"s":"Buy Sell Pressure","t":"2018-12-03","v":-6},{"s":"Buy Sell Pressure","t":"2018-12-06","v":-8},{"s":"Buy Sell Pressure","t":"2018-12-10","v":-4},{"s":"Buy Sell Pressure","t":"2018-12-13","v":-4},{"s":"Buy Sell Pressure","t":"2018-12-17","v":-14},{"s":"Buy Sell Pressure","t":"2018-12-20","v":-18},{"s":"Buy Sell Pressure","t":"2018-12-24","v":-26},{"s":"Buy Sell Pressure","t":"2018-12-27","v":-33},{"s":"Buy Sell Pressure","t":"2018-12-31","v":-35},{"s":"Buy Sell Pressure","t":"2019-01-07","v":-38},{"s":"Buy Sell Pressure","t":"2019-01-10","v":-36},{"s":"Buy Sell Pressure","t":"2019-01-14","v":-22},{"s":"Buy Sell Pressure","t":"2019-01-17","v":-16},{"s":"Buy Sell Pressure","t":"2019-01-21","v":-13},{"s":"Buy Sell Pressure","t":"2019-01-24","v":-9},{"s":"Buy Sell Pressure","t":"2019-01-28","v":3},{"s":"Buy Sell Pressure","t":"2019-01-31","v":15},{"s":"Buy Sell Pressure","t":"2019-02-04","v":21},{"s":"Buy Sell Pressure","t":"2019-02-07","v":18},{"s":"Buy Sell Pressure","t":"2019-02-11","v":13},{"s":"Buy Sell Pressure","t":"2019-02-14","v":17},{"s":"Buy Sell Pressure","t":"2019-02-18","v":23},{"s":"Buy Sell Pressure","t":"2019-02-21","v":16},{"s":"Buy Sell Pressure","t":"2019-02-25","v":15},{"s":"Buy Sell Pressure","t":"2019-02-28","v":12},{"s":"Buy Sell Pressure","t":"2019-03-04","v":9},{"s":"Buy Sell Pressure","t":"2019-03-07","v":8},{"s":"Buy Sell Pressure","t":"2019-03-09","v":15},{"s":"Buy Sell Pressure","t":"2019-03-11","v":30},{"s":"Buy Sell Pressure","t":"2019-03-14","v":40},{"s":"Buy Sell Pressure","t":"2019-03-18","v":34},{"s":"Buy Sell Pressure","t":"2019-03-21","v":38},{"s":"Buy Sell Pressure","t":"2019-03-23","v":19},{"s":"Buy Sell Pressure","t":"2019-03-25","v":25},{"s":"Buy Sell Pressure","t":"2019-03-28","v":31},{"s":"Buy Sell Pressure","t":"2019-04-01","v":38},{"s":"Buy Sell Pressure","t":"2019-04-04","v":40},
{"s":"BNPP Trending Indicator","t":"2018-10-01","v":43},{"s":"BNPP Trending Indicator","t":"2018-10-04","v":38},{"s":"BNPP Trending Indicator","t":"2018-10-08","v":30},{"s":"BNPP Trending Indicator","t":"2018-10-11","v":32},{"s":"BNPP Trending Indicator","t":"2018-10-15","v":33},{"s":"BNPP Trending Indicator","t":"2018-10-18","v":31},{"s":"BNPP Trending Indicator","t":"2018-10-22","v":15},{"s":"BNPP Trending Indicator","t":"2018-10-25","v":6},{"s":"BNPP Trending Indicator","t":"2018-10-29","v":-1},{"s":"BNPP Trending Indicator","t":"2018-11-01","v":-3},{"s":"BNPP Trending Indicator","t":"2018-11-05","v":-8},{"s":"BNPP Trending Indicator","t":"2018-11-08","v":-14},{"s":"BNPP Trending Indicator","t":"2018-11-12","v":-23},{"s":"BNPP Trending Indicator","t":"2018-11-15","v":-29},{"s":"BNPP Trending Indicator","t":"2018-11-19","v":-33},{"s":"BNPP Trending Indicator","t":"2018-11-22","v":-33},{"s":"BNPP Trending Indicator","t":"2018-11-26","v":-32},{"s":"BNPP Trending Indicator","t":"2018-11-29","v":-28},{"s":"BNPP Trending Indicator","t":"2018-12-03","v":-21},{"s":"BNPP Trending Indicator","t":"2018-12-06","v":-20},{"s":"BNPP Trending Indicator","t":"2018-12-10","v":-25},{"s":"BNPP Trending Indicator","t":"2018-12-13","v":-28},{"s":"BNPP Trending Indicator","t":"2018-12-17","v":-37},{"s":"BNPP Trending Indicator","t":"2018-12-20","v":-41},{"s":"BNPP Trending Indicator","t":"2018-12-24","v":-42},{"s":"BNPP Trending Indicator","t":"2018-12-27","v":-38},{"s":"BNPP Trending Indicator","t":"2018-12-31","v":-31},{"s":"BNPP Trending Indicator","t":"2019-01-03","v":-22},{"s":"BNPP Trending Indicator","t":"2019-01-07","v":-8},{"s":"BNPP Trending Indicator","t":"2019-01-10","v":-7},{"s":"BNPP Trending Indicator","t":"2019-01-14","v":-11},{"s":"BNPP Trending Indicator","t":"2019-01-17","v":-8},{"s":"BNPP Trending Indicator","t":"2019-01-21","v":-11},{"s":"BNPP Trending Indicator","t":"2019-01-24","v":-6},{"s":"BNPP Trending Indicator","t":"2019-01-28","v":3},{"s":"BNPP Trending Indicator","t":"2019-01-31","v":6},{"s":"BNPP Trending Indicator","t":"2019-02-04","v":-4},{"s":"BNPP Trending Indicator","t":"2019-02-07","v":-15},{"s":"BNPP Trending Indicator","t":"2019-02-11","v":-26},{"s":"BNPP Trending Indicator","t":"2019-02-14","v":-18},{"s":"BNPP Trending Indicator","t":"2019-02-18","v":-15},{"s":"BNPP Trending Indicator","t":"2019-02-21","v":-9},{"s":"BNPP Trending Indicator","t":"2019-02-25","v":-13},{"s":"BNPP Trending Indicator","t":"2019-02-28","v":-4},{"s":"BNPP Trending Indicator","t":"2019-03-04","v":-5},{"s":"BNPP Trending Indicator","t":"2019-03-07","v":-22},{"s":"BNPP Trending Indicator","t":"2019-03-11","v":-8},{"s":"BNPP Trending Indicator","t":"2019-03-14","v":-1},{"s":"BNPP Trending Indicator","t":"2019-03-18","v":10},{"s":"BNPP Trending Indicator","t":"2019-03-21","v":20},{"s":"BNPP Trending Indicator","t":"2019-03-23","v":29},{"s":"BNPP Trending Indicator","t":"2019-03-25","v":0},{"s":"BNPP Trending Indicator","t":"2019-03-28","v":-6},{"s":"BNPP Trending Indicator","t":"2019-04-01","v":-4},{"s":"BNPP Trending Indicator","t":"2019-04-04","v":5},
{"s":"Client Survey","t":"2018-10-01","v":34},{"s":"Client Survey","t":"2018-10-03","v":31},{"s":"Client Survey","t":"2018-10-09","v":33},{"s":"Client Survey","t":"2018-10-25","v":31},{"s":"Client Survey","t":"2018-11-07","v":23},{"s":"Client Survey","t":"2018-11-21","v":4},{"s":"Client Survey","t":"2018-11-30","v":0},{"s":"Client Survey","t":"2018-12-05","v":2},{"s":"Client Survey","t":"2018-12-12","v":5},{"s":"Client Survey","t":"2018-12-20","v":-8},{"s":"Client Survey","t":"2019-01-01","v":1},{"s":"Client Survey","t":"2019-01-10","v":35},{"s":"Client Survey","t":"2019-01-16","v":42},{"s":"Client Survey","t":"2019-01-23","v":46.5},{"s":"Client Survey","t":"2019-03-02","v":43},{"s":"Client Survey","t":"2019-03-07","v":35},{"s":"Client Survey","t":"2019-03-12","v":40},{"s":"Client Survey","t":"2019-03-21","v":44},{"s":"Client Survey","t":"2019-03-27","v":42},{"s":"Client Survey","t":"2019-04-04","v":42},
{"s":"Risk Reversals","t":"2018-10-01","v":48},{"s":"Risk Reversals","t":"2018-10-04","v":41},{"s":"Risk Reversals","t":"2018-10-08","v":36},{"s":"Risk Reversals","t":"2018-10-11","v":35},{"s":"Risk Reversals","t":"2018-10-15","v":38},{"s":"Risk Reversals","t":"2018-10-18","v":29},{"s":"Risk Reversals","t":"2018-10-22","v":33},{"s":"Risk Reversals","t":"2018-10-25","v":30},{"s":"Risk Reversals","t":"2018-10-29","v":30},{"s":"Risk Reversals","t":"2018-11-01","v":28},{"s":"Risk Reversals","t":"2018-11-05","v":25},{"s":"Risk Reversals","t":"2018-11-08","v":23},{"s":"Risk Reversals","t":"2018-11-12","v":22},{"s":"Risk Reversals","t":"2018-11-15","v":32},{"s":"Risk Reversals","t":"2018-11-19","v":23},{"s":"Risk Reversals","t":"2018-11-22","v":20},{"s":"Risk Reversals","t":"2018-11-26","v":22},{"s":"Risk Reversals","t":"2018-11-29","v":18},{"s":"Risk Reversals","t":"2018-12-03","v":28},{"s":"Risk Reversals","t":"2018-12-06","v":25},{"s":"Risk Reversals","t":"2018-12-10","v":26},{"s":"Risk Reversals","t":"2018-12-13","v":30},{"s":"Risk Reversals","t":"2018-12-17","v":20},{"s":"Risk Reversals","t":"2018-12-20","v":22},{"s":"Risk Reversals","t":"2018-12-24","v":17},{"s":"Risk Reversals","t":"2018-12-27","v":10},{"s":"Risk Reversals","t":"2018-12-31","v":22},{"s":"Risk Reversals","t":"2019-01-03","v":28},{"s":"Risk Reversals","t":"2019-01-07","v":36},{"s":"Risk Reversals","t":"2019-01-10","v":40},{"s":"Risk Reversals","t":"2019-01-14","v":33},{"s":"Risk Reversals","t":"2019-01-17","v":31},{"s":"Risk Reversals","t":"2019-01-21","v":33},{"s":"Risk Reversals","t":"2019-01-24","v":34},{"s":"Risk Reversals","t":"2019-01-28","v":38},{"s":"Risk Reversals","t":"2019-01-31","v":41},{"s":"Risk Reversals","t":"2019-02-04","v":49},{"s":"Risk Reversals","t":"2019-02-07","v":41},{"s":"Risk Reversals","t":"2019-02-11","v":34},{"s":"Risk Reversals","t":"2019-02-14","v":39},{"s":"Risk Reversals","t":"2019-02-18","v":47},{"s":"Risk Reversals","t":"2019-02-21","v":42},{"s":"Risk Reversals","t":"2019-02-25","v":41},{"s":"Risk Reversals","t":"2019-02-28","v":42},{"s":"Risk Reversals","t":"2019-03-04","v":33},{"s":"Risk Reversals","t":"2019-03-07","v":27},{"s":"Risk Reversals","t":"2019-03-11","v":43},{"s":"Risk Reversals","t":"2019-03-14","v":47},{"s":"Risk Reversals","t":"2019-03-18","v":48},{"s":"Risk Reversals","t":"2019-03-21","v":49},{"s":"Risk Reversals","t":"2019-03-25","v":43},{"s":"Risk Reversals","t":"2019-03-28","v":27},{"s":"Risk Reversals","t":"2019-04-01","v":27},{"s":"Risk Reversals","t":"2019-04-04","v":31},
{"s":"Fund Position Tracker","t":"2018-10-01","v":-21},{"s":"Fund Position Tracker","t":"2018-10-04","v":-43},{"s":"Fund Position Tracker","t":"2018-10-08","v":-45},{"s":"Fund Position Tracker","t":"2018-10-11","v":-33},{"s":"Fund Position Tracker","t":"2018-10-15","v":-38},{"s":"Fund Position Tracker","t":"2018-10-18","v":-44},{"s":"Fund Position Tracker","t":"2018-10-22","v":-46},{"s":"Fund Position Tracker","t":"2018-10-25","v":-48},{"s":"Fund Position Tracker","t":"2018-10-29","v":-49},{"s":"Fund Position Tracker","t":"2018-11-01","v":-47},{"s":"Fund Position Tracker","t":"2018-11-05","v":-43},{"s":"Fund Position Tracker","t":"2018-11-08","v":-48},{"s":"Fund Position Tracker","t":"2018-11-12","v":-49},{"s":"Fund Position Tracker","t":"2018-11-15","v":-48},{"s":"Fund Position Tracker","t":"2018-11-19","v":-45},{"s":"Fund Position Tracker","t":"2018-11-22","v":-36},{"s":"Fund Position Tracker","t":"2018-11-26","v":-47},{"s":"Fund Position Tracker","t":"2018-11-29","v":-48},{"s":"Fund Position Tracker","t":"2018-12-03","v":-49},{"s":"Fund Position Tracker","t":"2018-12-06","v":-49},{"s":"Fund Position Tracker","t":"2018-12-10","v":-48},{"s":"Fund Position Tracker","t":"2018-12-13","v":-45},{"s":"Fund Position Tracker","t":"2018-12-17","v":-40},{"s":"Fund Position Tracker","t":"2018-12-20","v":-38},{"s":"Fund Position Tracker","t":"2018-12-24","v":-37},{"s":"Fund Position Tracker","t":"2018-12-27","v":-35},{"s":"Fund Position Tracker","t":"2018-12-31","v":-24},{"s":"Fund Position Tracker","t":"2019-01-03","v":-10},{"s":"Fund Position Tracker","t":"2019-01-07","v":-5},{"s":"Fund Position Tracker","t":"2019-01-10","v":-2},{"s":"Fund Position Tracker","t":"2019-01-14","v":-7},{"s":"Fund Position Tracker","t":"2019-01-17","v":-2},{"s":"Fund Position Tracker","t":"2019-01-21","v":-4},{"s":"Fund Position Tracker","t":"2019-01-24","v":-2},{"s":"Fund Position Tracker","t":"2019-01-28","v":-6},{"s":"Fund Position Tracker","t":"2019-01-31","v":-7},{"s":"Fund Position Tracker","t":"2019-02-04","v":-14},{"s":"Fund Position Tracker","t":"2019-02-07","v":-17},{"s":"Fund Position Tracker","t":"2019-02-11","v":-30},{"s":"Fund Position Tracker","t":"2019-02-14","v":-38},{"s":"Fund Position Tracker","t":"2019-02-18","v":-43},{"s":"Fund Position Tracker","t":"2019-02-21","v":-45},{"s":"Fund Position Tracker","t":"2019-02-25","v":-48},{"s":"Fund Position Tracker","t":"2019-02-28","v":-49},{"s":"Fund Position Tracker","t":"2019-03-04","v":-49.5},{"s":"Fund Position Tracker","t":"2019-03-11","v":-49},{"s":"Fund Position Tracker","t":"2019-03-18","v":-48},{"s":"Fund Position Tracker","t":"2019-03-21","v":-43},{"s":"Fund Position Tracker","t":"2019-03-25","v":-46},{"s":"Fund Position Tracker","t":"2019-04-01","v":-45},{"s":"Fund Position Tracker","t":"2019-04-04","v":-45}
],
"sek": [
{"s":"Buy Sell Pressure","t":"2018-10-01","v":-24},{"s":"Buy Sell Pressure","t":"2018-10-04","v":-29},{"s":"Buy Sell Pressure","t":"2018-10-08","v":-27},{"s":"Buy Sell Pressure","t":"2018-10-11","v":-10},{"s":"Buy Sell Pressure","t":"2018-10-15","v":-12},{"s":"Buy Sell Pressure","t":"2018-10-18","v":-17},{"s":"Buy Sell Pressure","t":"2018-10-22","v":-20},{"s":"Buy Sell Pressure","t":"2018-10-25","v":-13},{"s":"Buy Sell Pressure","t":"2018-10-29","v":-1},{"s":"Buy Sell Pressure","t":"2018-11-01","v":8},{"s":"Buy Sell Pressure","t":"2018-11-05","v":14},{"s":"Buy Sell Pressure","t":"2018-11-08","v":10},{"s":"Buy Sell Pressure","t":"2018-11-12","v":19},{"s":"Buy Sell Pressure","t":"2018-11-15","v":22},{"s":"Buy Sell Pressure","t":"2018-11-19","v":24},{"s":"Buy Sell Pressure","t":"2018-11-22","v":27},{"s":"Buy Sell Pressure","t":"2018-11-26","v":32},{"s":"Buy Sell Pressure","t":"2018-11-29","v":36},{"s":"Buy Sell Pressure","t":"2018-12-03","v":40},{"s":"Buy Sell Pressure","t":"2018-12-06","v":36},{"s":"Buy Sell Pressure","t":"2018-12-10","v":32.5},{"s":"Buy Sell Pressure","t":"2018-12-13","v":31},{"s":"Buy Sell Pressure","t":"2018-12-17","v":34},{"s":"Buy Sell Pressure","t":"2018-12-20","v":38.5},{"s":"Buy Sell Pressure","t":"2018-12-24","v":46},{"s":"Buy Sell Pressure","t":"2018-12-27","v":48},{"s":"Buy Sell Pressure","t":"2018-12-31","v":48.5},{"s":"Buy Sell Pressure","t":"2019-01-03","v":49.5},{"s":"Buy Sell Pressure","t":"2019-01-07","v":50},{"s":"Buy Sell Pressure","t":"2019-01-14","v":50},{"s":"Buy Sell Pressure","t":"2019-01-17","v":46},{"s":"Buy Sell Pressure","t":"2019-01-21","v":42},{"s":"Buy Sell Pressure","t":"2019-01-24","v":37},{"s":"Buy Sell Pressure","t":"2019-01-28","v":29},{"s":"Buy Sell Pressure","t":"2019-01-31","v":20},{"s":"Buy Sell Pressure","t":"2019-02-04","v":5},{"s":"Buy Sell Pressure","t":"2019-02-07","v":2},{"s":"Buy Sell Pressure","t":"2019-02-11","v":5},{"s":"Buy Sell Pressure","t":"2019-02-14","v":-15},{"s":"Buy Sell Pressure","t":"2019-02-18","v":-21},{"s":"Buy Sell Pressure","t":"2019-02-21","v":-28},{"s":"Buy Sell Pressure","t":"2019-02-25","v":-31},{"s":"Buy Sell Pressure","t":"2019-02-28","v":-28.5},{"s":"Buy Sell Pressure","t":"2019-03-04","v":-26},{"s":"Buy Sell Pressure","t":"2019-03-11","v":-24},{"s":"Buy Sell Pressure","t":"2019-03-14","v":-14},{"s":"Buy Sell Pressure","t":"2019-03-18","v":-7},{"s":"Buy Sell Pressure","t":"2019-03-21","v":13},{"s":"Buy Sell Pressure","t":"2019-03-25","v":20},{"s":"Buy Sell Pressure","t":"2019-03-28","v":12},{"s":"Buy Sell Pressure","t":"2019-04-01","v":5},{"s":"Buy Sell Pressure","t":"2019-04-04","v":-1},
{"s":"BNPP Trending Indicator","t":"2018-10-01","v":-9},{"s":"BNPP Trending Indicator","t":"2018-10-04","v":-14},{"s":"BNPP Trending Indicator","t":"2018-10-08","v":-28},{"s":"BNPP Trending Indicator","t":"2018-10-11","v":2},{"s":"BNPP Trending Indicator","t":"2018-10-15","v":8},{"s":"BNPP Trending Indicator","t":"2018-10-18","v":0},{"s":"BNPP Trending Indicator","t":"2018-10-22","v":-2},{"s":"BNPP Trending Indicator","t":"2018-10-25","v":-15},{"s":"BNPP Trending Indicator","t":"2018-10-29","v":-9},{"s":"BNPP Trending Indicator","t":"2018-11-01","v":-2},{"s":"BNPP Trending Indicator","t":"2018-11-05","v":0},{"s":"BNPP Trending Indicator","t":"2018-11-08","v":-2},{"s":"BNPP Trending Indicator","t":"2018-11-12","v":0},{"s":"BNPP Trending Indicator","t":"2018-11-15","v":5},{"s":"BNPP Trending Indicator","t":"2018-11-19","v":0},{"s":"BNPP Trending Indicator","t":"2018-11-22","v":5},{"s":"BNPP Trending Indicator","t":"2018-11-26","v":-4},{"s":"BNPP Trending Indicator","t":"2018-11-29","v":2},{"s":"BNPP Trending Indicator","t":"2018-12-03","v":-3},{"s":"BNPP Trending Indicator","t":"2018-12-06","v":0},{"s":"BNPP Trending Indicator","t":"2018-12-10","v":7},{"s":"BNPP Trending Indicator","t":"2018-12-13","v":29},{"s":"BNPP Trending Indicator","t":"2018-12-17","v":24},{"s":"BNPP Trending Indicator","t":"2018-12-20","v":17},{"s":"BNPP Trending Indicator","t":"2018-12-24","v":22},{"s":"BNPP Trending Indicator","t":"2018-12-27","v":17},{"s":"BNPP Trending Indicator","t":"2018-12-30","v":42},{"s":"BNPP Trending Indicator","t":"2019-01-03","v":25},{"s":"BNPP Trending Indicator","t":"2019-01-07","v":25},{"s":"BNPP Trending Indicator","t":"2019-01-10","v":18},{"s":"BNPP Trending Indicator","t":"2019-01-14","v":10},{"s":"BNPP Trending Indicator","t":"2019-01-17","v":0},{"s":"BNPP Trending Indicator","t":"2019-01-21","v":3},{"s":"BNPP Trending Indicator","t":"2019-01-24","v":-14},{"s":"BNPP Trending Indicator","t":"2019-01-28","v":-22},{"s":"BNPP Trending Indicator","t":"2019-01-31","v":-21},{"s":"BNPP Trending Indicator","t":"2019-02-04","v":-21},{"s":"BNPP Trending Indicator","t":"2019-02-07","v":-28},{"s":"BNPP Trending Indicator","t":"2019-02-11","v":-33},{"s":"BNPP Trending Indicator","t":"2019-02-14","v":-31},{"s":"BNPP Trending Indicator","t":"2019-02-18","v":-36},{"s":"BNPP Trending Indicator","t":"2019-02-21","v":-40},{"s":"BNPP Trending Indicator","t":"2019-02-25","v":-37},{"s":"BNPP Trending Indicator","t":"2019-02-28","v":-30},{"s":"BNPP Trending Indicator","t":"2019-03-04","v":-26},{"s":"BNPP Trending Indicator","t":"2019-03-07","v":-31},{"s":"BNPP Trending Indicator","t":"2019-03-11","v":-26},{"s":"BNPP Trending Indicator","t":"2019-03-14","v":-14},{"s":"BNPP Trending Indicator","t":"2019-03-18","v":5},{"s":"BNPP Trending Indicator","t":"2019-03-21","v":2},{"s":"BNPP Trending Indicator","t":"2019-03-25","v":-7},{"s":"BNPP Trending Indicator","t":"2019-03-28","v":-2},{"s":"BNPP Trending Indicator","t":"2019-04-01","v":-4},{"s":"BNPP Trending Indicator","t":"2019-04-04","v":-5},
{"s":"Client Survey","t":"2018-10-01","v":-18},{"s":"Client Survey","t":"2018-10-03","v":-20},{"s":"Client Survey","t":"2018-10-25","v":-32},{"s":"Client Survey","t":"2018-11-02","v":-20},{"s":"Client Survey","t":"2018-11-09","v":6},{"s":"Client Survey","t":"2018-11-20","v":14},{"s":"Client Survey","t":"2018-11-28","v":20},{"s":"Client Survey","t":"2018-12-05","v":16},{"s":"Client Survey","t":"2018-12-14","v":1.4},{"s":"Client Survey","t":"2018-12-21","v":12},{"s":"Client Survey","t":"2019-01-03","v":-1},{"s":"Client Survey","t":"2019-01-11","v":-4.5},{"s":"Client Survey","t":"2019-01-17","v":-8},{"s":"Client Survey","t":"2019-01-27","v":-14},{"s":"Client Survey","t":"2019-01-31","v":-16},{"s":"Client Survey","t":"2019-02-21","v":-36},{"s":"Client Survey","t":"2019-03-01","v":-27},{"s":"Client Survey","t":"2019-03-18","v":-25},{"s":"Client Survey","t":"2019-03-24","v":-23},{"s":"Client Survey","t":"2019-03-28","v":-22},{"s":"Client Survey","t":"2019-04-04","v":-21},
{"s":"Risk Reversals","t":"2018-10-01","v":-24},{"s":"Risk Reversals","t":"2018-10-04","v":-26},{"s":"Risk Reversals","t":"2018-10-08","v":-28},{"s":"Risk Reversals","t":"2018-10-11","v":-10},{"s":"Risk Reversals","t":"2018-10-15","v":-3},{"s":"Risk Reversals","t":"2018-10-18","v":-12},{"s":"Risk Reversals","t":"2018-10-22","v":-19},{"s":"Risk Reversals","t":"2018-10-25","v":-14},{"s":"Risk Reversals","t":"2018-10-29","v":-7},{"s":"Risk Reversals","t":"2018-11-01","v":-3},{"s":"Risk Reversals","t":"2018-11-05","v":5},{"s":"Risk Reversals","t":"2018-11-08","v":-7},{"s":"Risk Reversals","t":"2018-11-12","v":-3},{"s":"Risk Reversals","t":"2018-11-15","v":0},{"s":"Risk Reversals","t":"2018-11-19","v":3},{"s":"Risk Reversals","t":"2018-11-22","v":0},{"s":"Risk Reversals","t":"2018-11-26","v":-5},{"s":"Risk Reversals","t":"2018-11-29","v":-10},{"s":"Risk Reversals","t":"2018-12-03","v":-4},{"s":"Risk Reversals","t":"2018-12-06","v":4},{"s":"Risk Reversals","t":"2018-12-10","v":5},{"s":"Risk Reversals","t":"2018-12-13","v":-2},{"s":"Risk Reversals","t":"2018-12-17","v":27},{"s":"Risk Reversals","t":"2018-12-20","v":17},{"s":"Risk Reversals","t":"2018-12-24","v":22},{"s":"Risk Reversals","t":"2018-12-27","v":31},{"s":"Risk Reversals","t":"2018-12-31","v":38},{"s":"Risk Reversals","t":"2019-01-03","v":34},{"s":"Risk Reversals","t":"2019-01-07","v":31},{"s":"Risk Reversals","t":"2019-01-10","v":34},{"s":"Risk Reversals","t":"2019-01-14","v":24},{"s":"Risk Reversals","t":"2019-01-17","v":26},{"s":"Risk Reversals","t":"2019-01-21","v":14},{"s":"Risk Reversals","t":"2019-01-24","v":-5},{"s":"Risk Reversals","t":"2019-01-28","v":-17},{"s":"Risk Reversals","t":"2019-01-31","v":-19},{"s":"Risk Reversals","t":"2019-02-04","v":-23},{"s":"Risk Reversals","t":"2019-02-07","v":-22},{"s":"Risk Reversals","t":"2019-02-11","v":-26},{"s":"Risk Reversals","t":"2019-02-14","v":-26},{"s":"Risk Reversals","t":"2019-02-18","v":-28},{"s":"Risk Reversals","t":"2019-02-21","v":-26},{"s":"Risk Reversals","t":"2019-02-25","v":-28},{"s":"Risk Reversals","t":"2019-02-28","v":-16},{"s":"Risk Reversals","t":"2019-03-04","v":-20},{"s":"Risk Reversals","t":"2019-03-07","v":-16},{"s":"Risk Reversals","t":"2019-03-11","v":-25},{"s":"Risk Reversals","t":"2019-03-14","v":-19},{"s":"Risk Reversals","t":"2019-03-18","v":-8},{"s":"Risk Reversals","t":"2019-03-21","v":2},{"s":"Risk Reversals","t":"2019-03-25","v":-8},{"s":"Risk Reversals","t":"2019-03-28","v":-10},{"s":"Risk Reversals","t":"2019-04-01","v":-19},{"s":"Risk Reversals","t":"2019-04-04","v":-25},
{"s":"Fund Position Tracker","t":"2018-10-01","v":-24},{"s":"Fund Position Tracker","t":"2018-10-04","v":-31},{"s":"Fund Position Tracker","t":"2018-10-07","v":-40},{"s":"Fund Position Tracker","t":"2018-10-09","v":-43},{"s":"Fund Position Tracker","t":"2018-10-10","v":-36},{"s":"Fund Position Tracker","t":"2018-10-13","v":-26},{"s":"Fund Position Tracker","t":"2018-10-15","v":-14},{"s":"Fund Position Tracker","t":"2018-10-18","v":-12},{"s":"Fund Position Tracker","t":"2018-10-25","v":-16.5},{"s":"Fund Position Tracker","t":"2018-10-27","v":-12},{"s":"Fund Position Tracker","t":"2018-11-01","v":-7},{"s":"Fund Position Tracker","t":"2018-11-06","v":-7},{"s":"Fund Position Tracker","t":"2018-11-08","v":-19},{"s":"Fund Position Tracker","t":"2018-11-09","v":-38},{"s":"Fund Position Tracker","t":"2018-11-12","v":-36},{"s":"Fund Position Tracker","t":"2018-11-14","v":-24},{"s":"Fund Position Tracker","t":"2018-11-17","v":-26},{"s":"Fund Position Tracker","t":"2018-11-19","v":-24},{"s":"Fund Position Tracker","t":"2018-11-23","v":-28.5},{"s":"Fund Position Tracker","t":"2018-11-25","v":-12},{"s":"Fund Position Tracker","t":"2018-11-28","v":10},{"s":"Fund Position Tracker","t":"2018-11-30","v":15},{"s":"Fund Position Tracker","t":"2018-12-02","v":7},{"s":"Fund Position Tracker","t":"2018-12-05","v":5},{"s":"Fund Position Tracker","t":"2018-12-07","v":-2},{"s":"Fund Position Tracker","t":"2018-12-09","v":0},{"s":"Fund Position Tracker","t":"2018-12-11","v":10},{"s":"Fund Position Tracker","t":"2018-12-14","v":24},{"s":"Fund Position Tracker","t":"2018-12-16","v":31},{"s":"Fund Position Tracker","t":"2018-12-18","v":29},{"s":"Fund Position Tracker","t":"2018-12-21","v":26},{"s":"Fund Position Tracker","t":"2018-12-23","v":22},{"s":"Fund Position Tracker","t":"2018-12-26","v":24},{"s":"Fund Position Tracker","t":"2018-12-28","v":19},{"s":"Fund Position Tracker","t":"2018-12-30","v":22},{"s":"Fund Position Tracker","t":"2019-01-02","v":17},{"s":"Fund Position Tracker","t":"2019-01-04","v":22},{"s":"Fund Position Tracker","t":"2019-01-06","v":24},{"s":"Fund Position Tracker","t":"2019-01-09","v":15},{"s":"Fund Position Tracker","t":"2019-01-11","v":3},{"s":"Fund Position Tracker","t":"2019-01-13","v":0},{"s":"Fund Position Tracker","t":"2019-01-16","v":-2},{"s":"Fund Position Tracker","t":"2019-01-18","v":-12},{"s":"Fund Position Tracker","t":"2019-01-21","v":-8},{"s":"Fund Position Tracker","t":"2019-01-24","v":-7},{"s":"Fund Position Tracker","t":"2019-01-28","v":-14},{"s":"Fund Position Tracker","t":"2019-01-30","v":-32},{"s":"Fund Position Tracker","t":"2019-01-31","v":41},{"s":"Fund Position Tracker","t":"2019-02-04","v":43},{"s":"Fund Position Tracker","t":"2019-02-06","v":47},{"s":"Fund Position Tracker","t":"2019-02-07","v":40},{"s":"Fund Position Tracker","t":"2019-02-11","v":29},{"s":"Fund Position Tracker","t":"2019-02-14","v":22},{"s":"Fund Position Tracker","t":"2019-02-16","v":25},{"s":"Fund Position Tracker","t":"2019-02-18","v":41},{"s":"Fund Position Tracker","t":"2019-02-22","v":41},{"s":"Fund Position Tracker","t":"2019-02-25","v":30},{"s":"Fund Position Tracker","t":"2019-02-28","v":21},{"s":"Fund Position Tracker","t":"2019-03-04","v":18},{"s":"Fund Position Tracker","t":"2019-03-07","v":12},{"s":"Fund Position Tracker","t":"2019-03-11","v":5},{"s":"Fund Position Tracker","t":"2019-03-14","v":-3},{"s":"Fund Position Tracker","t":"2019-03-18","v":-14},{"s":"Fund Position Tracker","t":"2019-03-21","v":-25},{"s":"Fund Position Tracker","t":"2019-03-25","v":-43},{"s":"Fund Position Tracker","t":"2019-03-28","v":-44},{"s":"Fund Position Tracker","t":"2019-04-01","v":-45},{"s":"Fund Position Tracker","t":"2019-04-04","v":-45}
]
},
"vconcat": [
  {"width": 802, "height": 1, "data": {"values": [{"z": 0}]}, "mark": {"type": "rule", "color": "#a8a8a8", "strokeWidth": 1}, "encoding": {"y": {"datum": 0, "scale": {"domain": [0, 1]}, "axis": null}}},
  {"vconcat": [
    {"hconcat": [
      {"vconcat": [
        {"width": 329, "height": 23, "view": {"fill": "#e6e8ea", "stroke": null}, "data": {"values": [{"label": "Fig. 17: AUD positioning components"}]},
         "layer": [
          {"mark": {"type": "rule", "color": "#9fcbbd", "strokeWidth": 1}, "encoding": {"y": {"datum": 0, "scale": {"domain": [0, 1]}, "axis": null}}},
          {"mark": {"type": "text", "fontSize": 13.5, "fontWeight": "bold", "color": "#111111"}, "encoding": {"text": {"field": "label", "type": "nominal"}}}
         ]},
        {"hconcat": [
          {"width": 1, "height": 1, "data": {"values": [{"e": ""}]}, "mark": {"type": "text", "fontSize": 1, "baseline": "top"}, "encoding": {"text": {"field": "e", "type": "nominal"}}},
          {"width": 261, "height": 151, "data": {"name": "aud"},
           "layer": [
            {"data": {"values": [{"z": 0}]}, "mark": {"type": "rule", "color": "#b9b9b9", "strokeWidth": 1}, "encoding": {"y": {"datum": 0}}},
            {"transform": [{"filter": "datum.s != 'IMM' && datum.s != 'Client Survey'"}], "mark": {"type": "line", "strokeWidth": 1.2},
             "encoding": {
              "x": {"field": "t", "type": "temporal", "title": null, "scale": {"type": "utc", "domain": [{"year": 2018, "month": 10, "date": 1, "utc": true}, {"year": 2019, "month": 4, "date": 5, "utc": true}], "nice": false},
                    "axis": {"values": [{"year": 2018, "month": 10, "date": 1, "utc": true}, {"year": 2018, "month": 11, "date": 1, "utc": true}, {"year": 2018, "month": 12, "date": 1, "utc": true}, {"year": 2019, "month": 1, "date": 1, "utc": true}, {"year": 2019, "month": 2, "date": 1, "utc": true}, {"year": 2019, "month": 3, "date": 1, "utc": true}, {"year": 2019, "month": 4, "date": 1, "utc": true}], "tickCount": 30,
                             "labelExpr": "utcmonth(datum.value)==10 ? ['Nov','2018'] : utcmonth(datum.value)==1 ? ['Feb','2019'] : utcmonth(datum.value)==3 ? '' : utcFormat(datum.value,'%b')",
                             "labelOffset": 21.5, "labelFlush": false, "labelOverlap": false, "tickSize": -3, "labelPadding": 6, "labelLineHeight": 14}},
              "y": {"field": "v", "type": "quantitative", "title": null, "scale": {"domain": [-53.9, 43.9], "nice": false, "zero": false},
                    "axis": {"values": [-50, -40, -30, -20, -10, 0, 10, 20, 30, 40], "tickCount": 30, "labelExpr": "toString(datum.value)", "labelOverlap": false, "tickSize": 5, "labelPadding": 6, "minExtent": 37, "maxExtent": 37}},
              "color": {"field": "s", "type": "nominal", "title": null,
                        "scale": {"domain": ["Buy Sell Pressure", "BNPP Trending Indicator", "Fund Position Tracker", "Risk Reversals", "IMM", "Client Survey"], "range": ["#5cbb6e", "#f39325", "#8b86c8", "#e8232a", "#9c5446", "#1a80b6"]},
                        "legend": {"orient": "none", "legendX": -19.5, "legendY": 193.3, "columns": 3, "direction": "horizontal", "symbolType": "stroke", "symbolSize": 169, "symbolStrokeWidth": 1.5, "labelFontSize": 8, "labelOffset": 3, "columnPadding": 8.5, "rowPadding": 0, "padding": 0, "labelColor": "#000000", "labelLimit": 300}}
             }},
            {"transform": [{"filter": "datum.s == 'IMM' || datum.s == 'Client Survey'"}], "mark": {"type": "line", "strokeWidth": 1.3, "interpolate": "step-after"},
             "encoding": {"x": {"field": "t", "type": "temporal"}, "y": {"field": "v", "type": "quantitative"}, "color": {"field": "s", "type": "nominal"}}}
           ]}
        ], "spacing": 0, "resolve": {"scale": {"color": "independent", "x": "independent", "y": "independent"}, "legend": {"color": "independent"}}}
      ], "spacing": 1, "resolve": {"scale": {"color": "independent", "x": "independent", "y": "independent"}, "legend": {"color": "independent"}}},
      {"vconcat": [
        {"width": 342, "height": 23, "view": {"fill": "#e6e8ea", "stroke": null}, "data": {"values": [{"label": "Fig. 18: CAD positioning components"}]},
         "layer": [
          {"mark": {"type": "rule", "color": "#9fcbbd", "strokeWidth": 1}, "encoding": {"y": {"datum": 0, "scale": {"domain": [0, 1]}, "axis": null}}},
          {"mark": {"type": "text", "fontSize": 13.5, "fontWeight": "bold", "color": "#111111"}, "encoding": {"text": {"field": "label", "type": "nominal"}}}
         ]},
        {"hconcat": [
          {"width": 1, "height": 1, "data": {"values": [{"e": ""}]}, "mark": {"type": "text", "fontSize": 1, "baseline": "top"}, "encoding": {"text": {"field": "e", "type": "nominal"}}},
          {"width": 261, "height": 151, "data": {"name": "cad"},
           "layer": [
            {"data": {"values": [{"z": 0}]}, "mark": {"type": "rule", "color": "#b9b9b9", "strokeWidth": 1}, "encoding": {"y": {"datum": 0}}},
            {"transform": [{"filter": "datum.s != 'IMM' && datum.s != 'Client Survey'"}], "mark": {"type": "line", "strokeWidth": 1.2},
             "encoding": {
              "x": {"field": "t", "type": "temporal", "title": null, "scale": {"type": "utc", "domain": [{"year": 2018, "month": 10, "date": 1, "utc": true}, {"year": 2019, "month": 4, "date": 5, "utc": true}], "nice": false},
                    "axis": {"values": [{"year": 2018, "month": 10, "date": 1, "utc": true}, {"year": 2018, "month": 11, "date": 1, "utc": true}, {"year": 2018, "month": 12, "date": 1, "utc": true}, {"year": 2019, "month": 1, "date": 1, "utc": true}, {"year": 2019, "month": 2, "date": 1, "utc": true}, {"year": 2019, "month": 3, "date": 1, "utc": true}, {"year": 2019, "month": 4, "date": 1, "utc": true}], "tickCount": 30,
                             "labelExpr": "utcmonth(datum.value)==10 ? ['Nov','2018'] : utcmonth(datum.value)==1 ? ['Feb','2019'] : utcmonth(datum.value)==3 ? '' : utcFormat(datum.value,'%b')",
                             "labelOffset": 21.5, "labelFlush": false, "labelOverlap": false, "tickSize": -3, "labelPadding": 6, "labelLineHeight": 14}},
              "y": {"field": "v", "type": "quantitative", "title": null, "scale": {"domain": [-54.3, 54.8], "nice": false, "zero": false},
                    "axis": {"values": [-50, -40, -30, -20, -10, 0, 10, 20, 30, 40, 50], "tickCount": 30, "labelExpr": "datum.value % 20 == 0 ? '' : toString(datum.value)", "labelOverlap": false, "tickSize": 5, "labelPadding": 6, "minExtent": 45, "maxExtent": 45}},
              "color": {"field": "s", "type": "nominal", "title": null,
                        "scale": {"domain": ["Buy Sell Pressure", "BNPP Trending Indicator", "Fund Position Tracker", "Risk Reversals", "IMM", "Client Survey"], "range": ["#5cbb6e", "#f39325", "#8b86c8", "#e8232a", "#9c5446", "#1a80b6"]},
                        "legend": {"orient": "none", "legendX": -20, "legendY": 193.3, "columns": 3, "direction": "horizontal", "symbolType": "stroke", "symbolSize": 169, "symbolStrokeWidth": 1.5, "labelFontSize": 8, "labelOffset": 3, "columnPadding": 8.5, "rowPadding": 0, "padding": 0, "labelColor": "#000000", "labelLimit": 300}}
             }},
            {"transform": [{"filter": "datum.s == 'IMM' || datum.s == 'Client Survey'"}], "mark": {"type": "line", "strokeWidth": 1.3, "interpolate": "step-after"},
             "encoding": {"x": {"field": "t", "type": "temporal"}, "y": {"field": "v", "type": "quantitative"}, "color": {"field": "s", "type": "nominal"}}}
           ]}
        ], "spacing": 0, "resolve": {"scale": {"color": "independent", "x": "independent", "y": "independent"}, "legend": {"color": "independent"}}}
      ], "spacing": 1, "resolve": {"scale": {"color": "independent", "x": "independent", "y": "independent"}, "legend": {"color": "independent"}}}
    ], "spacing": 14, "resolve": {"scale": {"color": "independent", "x": "independent", "y": "independent"}, "legend": {"color": "independent"}}},
    {"hconcat": [
      {"vconcat": [
        {"width": 329, "height": 23, "view": {"fill": "#e6e8ea", "stroke": null}, "data": {"values": [{"label": "Fig. 19: NZD positioning components"}]},
         "layer": [
          {"mark": {"type": "rule", "color": "#9fcbbd", "strokeWidth": 1}, "encoding": {"y": {"datum": 0, "scale": {"domain": [0, 1]}, "axis": null}}},
          {"mark": {"type": "text", "fontSize": 13.5, "fontWeight": "bold", "color": "#111111"}, "encoding": {"text": {"field": "label", "type": "nominal"}}}
         ]},
        {"hconcat": [
          {"width": 1, "height": 1, "data": {"values": [{"e": ""}]}, "mark": {"type": "text", "fontSize": 1, "baseline": "top"}, "encoding": {"text": {"field": "e", "type": "nominal"}}},
          {"width": 261, "height": 151, "data": {"name": "nzd"},
           "layer": [
            {"data": {"values": [{"z": 0}]}, "mark": {"type": "rule", "color": "#b9b9b9", "strokeWidth": 1}, "encoding": {"y": {"datum": 0}}},
            {"transform": [{"filter": "datum.s != 'IMM' && datum.s != 'Client Survey'"}], "mark": {"type": "line", "strokeWidth": 1.2},
             "encoding": {
              "x": {"field": "t", "type": "temporal", "title": null, "scale": {"type": "utc", "domain": [{"year": 2018, "month": 4, "date": 1, "utc": true}, {"year": 2019, "month": 4, "date": 8, "utc": true}], "nice": false},
                    "axis": {"values": [{"year": 2018, "month": 4, "date": 1, "utc": true}, {"year": 2018, "month": 5, "date": 1, "utc": true}, {"year": 2018, "month": 6, "date": 1, "utc": true}, {"year": 2018, "month": 7, "date": 1, "utc": true}, {"year": 2018, "month": 8, "date": 1, "utc": true}, {"year": 2018, "month": 9, "date": 1, "utc": true}, {"year": 2018, "month": 10, "date": 1, "utc": true}, {"year": 2018, "month": 11, "date": 1, "utc": true}, {"year": 2018, "month": 12, "date": 1, "utc": true}, {"year": 2019, "month": 1, "date": 1, "utc": true}, {"year": 2019, "month": 2, "date": 1, "utc": true}, {"year": 2019, "month": 3, "date": 1, "utc": true}, {"year": 2019, "month": 4, "date": 1, "utc": true}], "tickCount": 30,
                             "labelExpr": "(utcyear(datum.value)==2019 && utcmonth(datum.value)==3) ? '' : utcmonth(datum.value)==7 ? ['A','2018'] : utcmonth(datum.value)==1 ? ['F','2019'] : substring(utcFormat(datum.value,'%b'),0,1)",
                             "labelOffset": 10.7, "labelFlush": false, "labelOverlap": false, "tickSize": -3, "labelPadding": 6, "labelLineHeight": 14}},
              "y": {"field": "v", "type": "quantitative", "title": null, "scale": {"domain": [-54.5, 54], "nice": false, "zero": false},
                    "axis": {"values": [-50, -40, -30, -20, -10, 0, 10, 20, 30, 40, 50], "tickCount": 30, "labelExpr": "datum.value % 20 == 0 ? '' : toString(datum.value)", "labelOverlap": false, "tickSize": 5, "labelPadding": 6, "minExtent": 37, "maxExtent": 37}},
              "color": {"field": "s", "type": "nominal", "title": null,
                        "scale": {"domain": ["Buy Sell Pressure", "BNPP Trending Indicator", "Fund Position Tracker", "Risk Reversals", "IMM", "Client Survey"], "range": ["#5cbb6e", "#f39325", "#8b86c8", "#e8232a", "#9c5446", "#1a80b6"]},
                        "legend": {"orient": "none", "legendX": -19.5, "legendY": 193, "columns": 3, "direction": "horizontal", "symbolType": "stroke", "symbolSize": 169, "symbolStrokeWidth": 1.5, "labelFontSize": 8, "labelOffset": 3, "columnPadding": 8.5, "rowPadding": 0, "padding": 0, "labelColor": "#000000", "labelLimit": 300}}
             }},
            {"transform": [{"filter": "datum.s == 'IMM' || datum.s == 'Client Survey'"}], "mark": {"type": "line", "strokeWidth": 1.3, "interpolate": "step-after"},
             "encoding": {"x": {"field": "t", "type": "temporal"}, "y": {"field": "v", "type": "quantitative"}, "color": {"field": "s", "type": "nominal"}}}
           ]}
        ], "spacing": 0, "resolve": {"scale": {"color": "independent", "x": "independent", "y": "independent"}, "legend": {"color": "independent"}}}
      ], "spacing": 1, "resolve": {"scale": {"color": "independent", "x": "independent", "y": "independent"}, "legend": {"color": "independent"}}},
      {"vconcat": [
        {"width": 342, "height": 23, "view": {"fill": "#e6e8ea", "stroke": null}, "data": {"values": [{"label": "Fig. 20: CHF positioning components"}]},
         "layer": [
          {"mark": {"type": "rule", "color": "#9fcbbd", "strokeWidth": 1}, "encoding": {"y": {"datum": 0, "scale": {"domain": [0, 1]}, "axis": null}}},
          {"mark": {"type": "text", "fontSize": 13.5, "fontWeight": "bold", "color": "#111111"}, "encoding": {"text": {"field": "label", "type": "nominal"}}}
         ]},
        {"hconcat": [
          {"width": 1, "height": 1, "data": {"values": [{"e": ""}]}, "mark": {"type": "text", "fontSize": 1, "baseline": "top"}, "encoding": {"text": {"field": "e", "type": "nominal"}}},
          {"width": 261, "height": 151, "data": {"name": "chf"},
           "layer": [
            {"data": {"values": [{"z": 0}]}, "mark": {"type": "rule", "color": "#b9b9b9", "strokeWidth": 1}, "encoding": {"y": {"datum": 0}}},
            {"transform": [{"filter": "datum.s != 'IMM' && datum.s != 'Client Survey'"}], "mark": {"type": "line", "strokeWidth": 1.2},
             "encoding": {
              "x": {"field": "t", "type": "temporal", "title": null, "scale": {"type": "utc", "domain": [{"year": 2018, "month": 10, "date": 1, "utc": true}, {"year": 2019, "month": 4, "date": 5, "utc": true}], "nice": false},
                    "axis": {"values": [{"year": 2018, "month": 10, "date": 1, "utc": true}, {"year": 2018, "month": 11, "date": 1, "utc": true}, {"year": 2018, "month": 12, "date": 1, "utc": true}, {"year": 2019, "month": 1, "date": 1, "utc": true}, {"year": 2019, "month": 2, "date": 1, "utc": true}, {"year": 2019, "month": 3, "date": 1, "utc": true}, {"year": 2019, "month": 4, "date": 1, "utc": true}], "tickCount": 30,
                             "labelExpr": "utcmonth(datum.value)==10 ? ['Nov','2018'] : utcmonth(datum.value)==1 ? ['Feb','2019'] : utcmonth(datum.value)==3 ? '' : utcFormat(datum.value,'%b')",
                             "labelOffset": 21.5, "labelFlush": false, "labelOverlap": false, "tickSize": -3, "labelPadding": 6, "labelLineHeight": 14}},
              "y": {"field": "v", "type": "quantitative", "title": null, "scale": {"domain": [-54.5, 54], "nice": false, "zero": false},
                    "axis": {"values": [-50, -40, -30, -20, -10, 0, 10, 20, 30, 40, 50], "tickCount": 30, "labelExpr": "datum.value % 20 == 0 ? '' : toString(datum.value)", "labelOverlap": false, "tickSize": 5, "labelPadding": 6, "minExtent": 45, "maxExtent": 45}},
              "color": {"field": "s", "type": "nominal", "title": null,
                        "scale": {"domain": ["Buy Sell Pressure", "BNPP Trending Indicator", "Fund Position Tracker", "Risk Reversals", "IMM", "Client Survey"], "range": ["#5cbb6e", "#f39325", "#8b86c8", "#e8232a", "#9c5446", "#1a80b6"]},
                        "legend": {"orient": "none", "legendX": -20, "legendY": 193, "columns": 3, "direction": "horizontal", "symbolType": "stroke", "symbolSize": 169, "symbolStrokeWidth": 1.5, "labelFontSize": 8, "labelOffset": 3, "columnPadding": 8.5, "rowPadding": 0, "padding": 0, "labelColor": "#000000", "labelLimit": 300}}
             }},
            {"transform": [{"filter": "datum.s == 'IMM' || datum.s == 'Client Survey'"}], "mark": {"type": "line", "strokeWidth": 1.3, "interpolate": "step-after"},
             "encoding": {"x": {"field": "t", "type": "temporal"}, "y": {"field": "v", "type": "quantitative"}, "color": {"field": "s", "type": "nominal"}}}
           ]}
        ], "spacing": 0, "resolve": {"scale": {"color": "independent", "x": "independent", "y": "independent"}, "legend": {"color": "independent"}}}
      ], "spacing": 1, "resolve": {"scale": {"color": "independent", "x": "independent", "y": "independent"}, "legend": {"color": "independent"}}}
    ], "spacing": 14, "resolve": {"scale": {"color": "independent", "x": "independent", "y": "independent"}, "legend": {"color": "independent"}}},
    {"hconcat": [
      {"vconcat": [
        {"vconcat": [
          {"width": 329, "height": 23, "view": {"fill": "#e6e8ea", "stroke": null}, "data": {"values": [{"label": "Fig. 21: NOK positioning components"}]},
           "layer": [
            {"mark": {"type": "rule", "color": "#9fcbbd", "strokeWidth": 1}, "encoding": {"y": {"datum": 0, "scale": {"domain": [0, 1]}, "axis": null}}},
            {"mark": {"type": "text", "fontSize": 13.5, "fontWeight": "bold", "color": "#111111"}, "encoding": {"text": {"field": "label", "type": "nominal"}}}
           ]},
          {"hconcat": [
            {"width": 1, "height": 1, "data": {"values": [{"e": ""}]}, "mark": {"type": "text", "fontSize": 1, "baseline": "top"}, "encoding": {"text": {"field": "e", "type": "nominal"}}},
            {"width": 261, "height": 151, "data": {"name": "nok"},
             "layer": [
              {"data": {"values": [{"z": 0}]}, "mark": {"type": "rule", "color": "#b9b9b9", "strokeWidth": 1}, "encoding": {"y": {"datum": 0}}},
              {"transform": [{"filter": "datum.s != 'Client Survey'"}], "mark": {"type": "line", "strokeWidth": 1.2},
               "encoding": {
                "x": {"field": "t", "type": "temporal", "title": null, "scale": {"type": "utc", "domain": [{"year": 2018, "month": 10, "date": 1, "utc": true}, {"year": 2019, "month": 4, "date": 5, "utc": true}], "nice": false},
                      "axis": {"values": [{"year": 2018, "month": 10, "date": 1, "utc": true}, {"year": 2018, "month": 11, "date": 1, "utc": true}, {"year": 2018, "month": 12, "date": 1, "utc": true}, {"year": 2019, "month": 1, "date": 1, "utc": true}, {"year": 2019, "month": 2, "date": 1, "utc": true}, {"year": 2019, "month": 3, "date": 1, "utc": true}, {"year": 2019, "month": 4, "date": 1, "utc": true}], "tickCount": 30,
                               "labelExpr": "utcmonth(datum.value)==10 ? ['Nov','2018'] : utcmonth(datum.value)==1 ? ['Feb','2019'] : utcmonth(datum.value)==3 ? '' : utcFormat(datum.value,'%b')",
                               "labelOffset": 21.5, "labelFlush": false, "labelOverlap": false, "tickSize": -3, "labelPadding": 6, "labelLineHeight": 14}},
                "y": {"field": "v", "type": "quantitative", "title": null, "scale": {"domain": [-54.5, 54], "nice": false, "zero": false},
                      "axis": {"values": [-50, -40, -30, -20, -10, 0, 10, 20, 30, 40, 50], "tickCount": 30, "labelExpr": "datum.value % 20 == 0 ? '' : toString(datum.value)", "labelOverlap": false, "tickSize": 5, "labelPadding": 6, "minExtent": 37, "maxExtent": 37}},
                "color": {"field": "s", "type": "nominal", "title": null,
                          "scale": {"domain": ["Buy Sell Pressure", "BNPP Trending Indicator", "Client Survey", "Risk Reversals", "Fund Position Tracker"], "range": ["#5cbb6e", "#f39325", "#1a80b6", "#e8232a", "#8b86c8"]},
                          "legend": {"orient": "none", "legendX": -19.5, "legendY": 193, "columns": 3, "direction": "horizontal", "symbolType": "stroke", "symbolSize": 169, "symbolStrokeWidth": 1.5, "labelFontSize": 8, "labelOffset": 3, "columnPadding": 8.5, "rowPadding": 0, "padding": 0, "labelColor": "#000000", "labelLimit": 300}}
               }},
              {"transform": [{"filter": "datum.s == 'Client Survey'"}], "mark": {"type": "line", "strokeWidth": 1.3, "interpolate": "step-after"},
               "encoding": {"x": {"field": "t", "type": "temporal"}, "y": {"field": "v", "type": "quantitative"}, "color": {"field": "s", "type": "nominal"}}}
             ]}
          ], "spacing": 0, "resolve": {"scale": {"color": "independent", "x": "independent", "y": "independent"}, "legend": {"color": "independent"}}}
        ], "spacing": 1, "resolve": {"scale": {"color": "independent", "x": "independent", "y": "independent"}, "legend": {"color": "independent"}}},
        {"width": 329, "height": 1, "data": {"values": [{"z": 0}]}, "mark": {"type": "rule", "color": "#2aa57e", "strokeWidth": 1.5}, "encoding": {"y": {"datum": 0, "scale": {"domain": [0, 1]}, "axis": null}},
         "title": {"text": "All chart sources: BNP Paribas", "orient": "bottom", "anchor": "start", "fontSize": 10.5, "fontStyle": "italic", "fontWeight": "normal", "color": "#000000", "offset": 3, "font": "Liberation Sans"}}
      ], "spacing": 8, "resolve": {"scale": {"color": "independent", "x": "independent", "y": "independent"}, "legend": {"color": "independent"}}},
      {"vconcat": [
        {"vconcat": [
          {"width": 342, "height": 23, "view": {"fill": "#e6e8ea", "stroke": null}, "data": {"values": [{"label": "Fig. 22: SEK positioning components"}]},
           "layer": [
            {"mark": {"type": "rule", "color": "#9fcbbd", "strokeWidth": 1}, "encoding": {"y": {"datum": 0, "scale": {"domain": [0, 1]}, "axis": null}}},
            {"mark": {"type": "text", "fontSize": 13.5, "fontWeight": "bold", "color": "#111111"}, "encoding": {"text": {"field": "label", "type": "nominal"}}}
           ]},
          {"hconcat": [
            {"width": 1, "height": 1, "data": {"values": [{"e": ""}]}, "mark": {"type": "text", "fontSize": 1, "baseline": "top"}, "encoding": {"text": {"field": "e", "type": "nominal"}}},
            {"width": 261, "height": 151, "data": {"name": "sek"},
             "layer": [
              {"data": {"values": [{"z": 0}]}, "mark": {"type": "rule", "color": "#b9b9b9", "strokeWidth": 1}, "encoding": {"y": {"datum": 0}}},
              {"transform": [{"filter": "datum.s != 'Client Survey'"}], "mark": {"type": "line", "strokeWidth": 1.2},
               "encoding": {
                "x": {"field": "t", "type": "temporal", "title": null, "scale": {"type": "utc", "domain": [{"year": 2018, "month": 10, "date": 1, "utc": true}, {"year": 2019, "month": 4, "date": 5, "utc": true}], "nice": false},
                      "axis": {"values": [{"year": 2018, "month": 10, "date": 1, "utc": true}, {"year": 2018, "month": 11, "date": 1, "utc": true}, {"year": 2018, "month": 12, "date": 1, "utc": true}, {"year": 2019, "month": 1, "date": 1, "utc": true}, {"year": 2019, "month": 2, "date": 1, "utc": true}, {"year": 2019, "month": 3, "date": 1, "utc": true}, {"year": 2019, "month": 4, "date": 1, "utc": true}], "tickCount": 30,
                               "labelExpr": "utcmonth(datum.value)==10 ? ['Nov','2018'] : utcmonth(datum.value)==1 ? ['Feb','2019'] : utcmonth(datum.value)==3 ? '' : utcFormat(datum.value,'%b')",
                               "labelOffset": 21.5, "labelFlush": false, "labelOverlap": false, "tickSize": -3, "labelPadding": 6, "labelLineHeight": 14}},
                "y": {"field": "v", "type": "quantitative", "title": null, "scale": {"domain": [-54.5, 54], "nice": false, "zero": false},
                      "axis": {"values": [-50, -40, -30, -20, -10, 0, 10, 20, 30, 40, 50], "tickCount": 30, "labelExpr": "datum.value % 20 == 0 ? '' : toString(datum.value)", "labelOverlap": false, "tickSize": 5, "labelPadding": 6, "minExtent": 45, "maxExtent": 45}},
                "color": {"field": "s", "type": "nominal", "title": null,
                          "scale": {"domain": ["Buy Sell Pressure", "BNPP Trending Indicator", "Client Survey", "Risk Reversals", "Fund Position Tracker"], "range": ["#5cbb6e", "#f39325", "#1a80b6", "#e8232a", "#8b86c8"]},
                          "legend": {"orient": "none", "legendX": -20, "legendY": 193, "columns": 3, "direction": "horizontal", "symbolType": "stroke", "symbolSize": 169, "symbolStrokeWidth": 1.5, "labelFontSize": 8, "labelOffset": 3, "columnPadding": 8.5, "rowPadding": 0, "padding": 0, "labelColor": "#000000", "labelLimit": 300}}
               }},
              {"transform": [{"filter": "datum.s == 'Client Survey'"}], "mark": {"type": "line", "strokeWidth": 1.3, "interpolate": "step-after"},
               "encoding": {"x": {"field": "t", "type": "temporal"}, "y": {"field": "v", "type": "quantitative"}, "color": {"field": "s", "type": "nominal"}}}
             ]}
          ], "spacing": 0, "resolve": {"scale": {"color": "independent", "x": "independent", "y": "independent"}, "legend": {"color": "independent"}}}
        ], "spacing": 1, "resolve": {"scale": {"color": "independent", "x": "independent", "y": "independent"}, "legend": {"color": "independent"}}},
        {"width": 342, "height": 1, "data": {"values": [{"z": 0}]}, "mark": {"type": "rule", "color": "#2aa57e", "strokeWidth": 1.5}, "encoding": {"y": {"datum": 0, "scale": {"domain": [0, 1]}, "axis": null}},
         "title": {"text": "All chart sources: BNP Paribas", "orient": "bottom", "anchor": "start", "fontSize": 10.5, "fontStyle": "italic", "fontWeight": "normal", "color": "#000000", "offset": 3, "font": "Liberation Sans"}}
      ], "spacing": 8, "resolve": {"scale": {"color": "independent", "x": "independent", "y": "independent"}, "legend": {"color": "independent"}}}
    ], "spacing": 14, "resolve": {"scale": {"color": "independent", "x": "independent", "y": "independent"}, "legend": {"color": "independent"}}}
  ], "spacing": 7, "resolve": {"scale": {"color": "independent", "x": "independent", "y": "independent"}, "legend": {"color": "independent"}}}
],
"spacing": 23,
"center": true,
"resolve": {"scale": {"color": "independent", "x": "independent", "y": "independent"}, "legend": {"color": "independent"}}
}
